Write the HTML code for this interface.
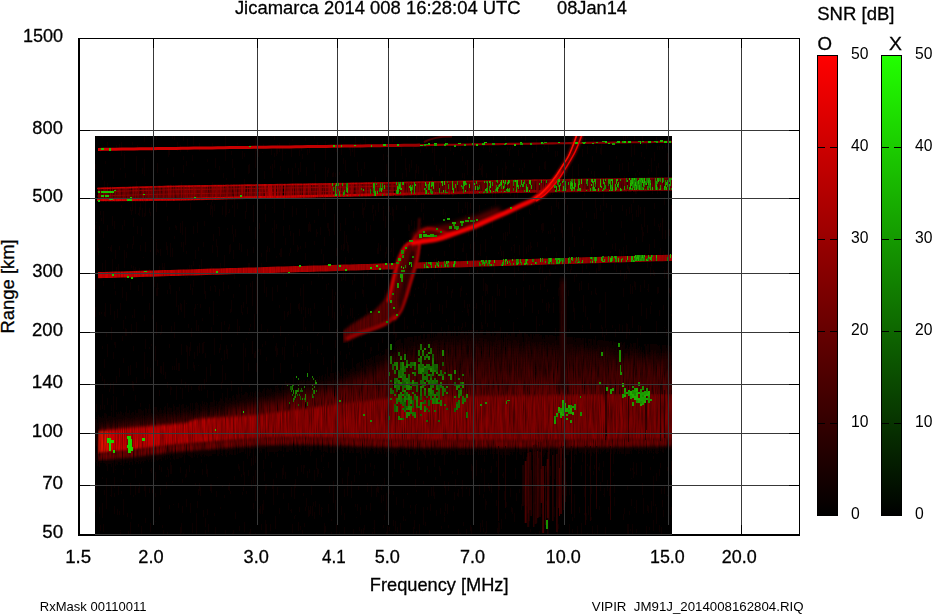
<!DOCTYPE html>
<html><head><meta charset="utf-8"><title>Ionogram</title>
<style>
html,body{margin:0;padding:0;background:#fff;width:932px;height:614px;overflow:hidden;}
svg{display:block;position:absolute;left:0;top:0;}
text{font-family:"Liberation Sans",sans-serif;fill:#000;}
</style></head><body>
<svg width="932" height="614" viewBox="0 0 932 614">
<defs>
<linearGradient id="cbR" x1="0" y1="0" x2="0" y2="1"><stop offset="0" stop-color="#ff0000"/><stop offset="1" stop-color="#000000"/></linearGradient>
<linearGradient id="cbG" x1="0" y1="0" x2="0" y2="1"><stop offset="0" stop-color="#22ff00"/><stop offset="1" stop-color="#000000"/></linearGradient>
<clipPath id="dclip"><rect x="95" y="136" width="577" height="399"/></clipPath>
<linearGradient id="egrad" gradientUnits="userSpaceOnUse" x1="97" y1="0" x2="672" y2="0"><stop offset="0" stop-color="#e80800"/><stop offset="0.12" stop-color="#d00000"/><stop offset="0.3" stop-color="#a00000"/><stop offset="0.55" stop-color="#920000"/><stop offset="1" stop-color="#880000"/></linearGradient>
<filter id="b05" x="-5%" y="-50%" width="110%" height="200%"><feGaussianBlur stdDeviation="0.5"/></filter>
<filter id="b1" x="-10%" y="-10%" width="120%" height="120%"><feGaussianBlur stdDeviation="1"/></filter>
<filter id="b15" x="-5%" y="-20%" width="110%" height="140%"><feGaussianBlur stdDeviation="0.8 1.8"/></filter>
<filter id="b2" x="-20%" y="-50%" width="140%" height="200%"><feGaussianBlur stdDeviation="2"/></filter>
<filter id="b3" x="-20%" y="-20%" width="140%" height="140%"><feGaussianBlur stdDeviation="1 3"/></filter>
<filter id="b6" x="-5%" y="-30%" width="110%" height="160%"><feGaussianBlur stdDeviation="2 7"/></filter>
<filter id="tex" x="95" y="136" width="577" height="399" filterUnits="userSpaceOnUse">
<feTurbulence type="fractalNoise" baseFrequency="0.6 0.03" numOctaves="2" seed="5" result="n"/>
<feColorMatrix in="n" type="matrix" values="0 0 0 0 0  0 0 0 0 0  0 0 0 0 0  0.9 0 0 0 -0.27" result="nb"/>
<feFlood flood-color="#000" result="blk"/>
<feComposite in="blk" in2="nb" operator="in" result="shade"/>
<feComposite in="shade" in2="SourceGraphic" operator="atop"/>
</filter>
<filter id="tex2" x="95" y="136" width="577" height="399" filterUnits="userSpaceOnUse">
<feTurbulence type="fractalNoise" baseFrequency="1.1 0.05" numOctaves="2" seed="11" result="n"/>
<feColorMatrix in="n" type="matrix" values="0 0 0 0 0  0 0 0 0 0  0 0 0 0 0  1.7 0 0 0 -0.47" result="nb"/>
<feFlood flood-color="#000" result="blk"/>
<feComposite in="blk" in2="nb" operator="in" result="shade"/>
<feComposite in="shade" in2="SourceGraphic" operator="atop"/>
</filter>
<linearGradient id="hazeg" gradientUnits="userSpaceOnUse" x1="0" y1="318" x2="0" y2="400"><stop offset="0" stop-color="#300000" stop-opacity="0"/><stop offset="0.35" stop-color="#280000"/><stop offset="0.75" stop-color="#4c0000"/><stop offset="1" stop-color="#6c0000"/></linearGradient>
<linearGradient id="bEdge" gradientUnits="userSpaceOnUse" x1="97" y1="0" x2="672" y2="0"><stop offset="0" stop-color="#e00000"/><stop offset="0.45" stop-color="#cc0000"/><stop offset="0.6" stop-color="#a00000"/><stop offset="1" stop-color="#800000"/></linearGradient>
<linearGradient id="bBody" gradientUnits="userSpaceOnUse" x1="97" y1="0" x2="672" y2="0"><stop offset="0" stop-color="#700000"/><stop offset="0.15" stop-color="#880000"/><stop offset="0.4" stop-color="#980000"/><stop offset="0.6" stop-color="#7c0000"/><stop offset="1" stop-color="#6c0000"/></linearGradient>
<linearGradient id="aGrad" gradientUnits="userSpaceOnUse" x1="97" y1="0" x2="672" y2="0"><stop offset="0" stop-color="#d80000"/><stop offset="0.4" stop-color="#c00000"/><stop offset="0.55" stop-color="#980000"/><stop offset="1" stop-color="#800000"/></linearGradient>
<linearGradient id="cGrad" gradientUnits="userSpaceOnUse" x1="97" y1="0" x2="672" y2="0"><stop offset="0" stop-color="#d00000"/><stop offset="0.35" stop-color="#b80000"/><stop offset="0.55" stop-color="#a00000"/><stop offset="1" stop-color="#a00000"/></linearGradient>
<filter id="tex3" x="95" y="136" width="577" height="399" filterUnits="userSpaceOnUse">
<feTurbulence type="fractalNoise" baseFrequency="0.9 0.035" numOctaves="2" seed="23" result="n"/>
<feColorMatrix in="n" type="matrix" values="0 0 0 0 0  0 0 0 0 0  0 0 0 0 0  1.4 0 0 0 -0.45" result="nb"/>
<feFlood flood-color="#000" result="blk"/>
<feComposite in="blk" in2="nb" operator="in" result="shade"/>
<feComposite in="shade" in2="SourceGraphic" operator="atop"/>
</filter>
</defs>
<rect width="932" height="614" fill="#fff"/>

<!-- DATA -->
<g clip-path="url(#dclip)">
<rect x="95" y="136" width="577" height="399" fill="#020000"/>
<g filter="url(#tex)">
</g>
<g filter="url(#tex2)">
<path d="M385,300 L672,296 L672,360 L385,370 Z" fill="#1e0000" filter="url(#b6)"/>
<path d="M250,395 L380,330 L380,380 L250,420 Z" fill="#140000" filter="url(#b6)"/>
<rect x="95" y="136" width="577" height="399" fill="#070000"/>
<path d="M98.0,427.9 L102.0,427.4 L106.0,427.0 L110.0,426.5 L114.0,426.0 L118.0,425.6 L122.0,425.1 L126.0,424.6 L130.0,424.2 L134.0,423.7 L138.0,423.2 L142.0,422.8 L146.0,422.3 L150.0,421.8 L154.0,421.4 L158.0,420.9 L162.0,420.4 L166.0,420.0 L170.0,419.5 L174.0,419.0 L178.0,418.6 L182.0,418.1 L186.0,417.6 L190.0,417.2 L194.0,416.7 L198.0,416.2 L202.0,415.6 L206.0,414.7 L210.0,413.9 L214.0,413.1 L218.0,412.2 L222.0,411.4 L226.0,410.5 L230.0,409.7 L234.0,408.8 L238.0,408.0 L242.0,407.2 L246.0,406.3 L250.0,405.5 L254.0,404.6 L258.0,403.8 L262.0,402.8 L266.0,401.9 L270.0,401.0 L274.0,400.0 L278.0,399.1 L282.0,398.2 L286.0,397.3 L290.0,396.3 L294.0,395.4 L298.0,394.5 L302.0,393.5 L306.0,392.5 L310.0,391.5 L314.0,390.5 L318.0,389.5 L322.0,388.5 L326.0,387.5 L330.0,386.5 L334.0,385.5 L338.0,384.5 L342.0,383.1 L346.0,381.1 L350.0,379.2 L354.0,377.4 L358.0,375.4 L362.0,373.6 L366.0,371.6 L370.0,369.8 L374.0,367.9 L378.0,365.9 L382.0,363.3 L386.0,359.9 L390.0,356.5 L394.0,353.1 L398.0,349.7 L402.0,347.6 L406.0,346.8 L410.0,346.0 L414.0,345.2 L418.0,344.4 L422.0,343.6 L426.0,342.8 L430.0,342.0 L434.0,341.2 L438.0,340.4 L442.0,339.9 L446.0,339.7 L450.0,339.5 L454.0,339.3 L458.0,339.1 L462.0,338.9 L466.0,338.7 L470.0,338.5 L474.0,338.3 L478.0,338.1 L482.0,338.2 L486.0,338.5 L490.0,338.9 L494.0,339.2 L498.0,339.6 L502.0,339.9 L506.0,340.3 L510.0,340.6 L514.0,341.0 L518.0,341.3 L522.0,341.7 L526.0,342.0 L530.0,342.4 L534.0,342.7 L538.0,343.1 L542.0,343.4 L546.0,343.8 L550.0,344.1 L554.0,344.5 L558.0,344.8 L562.0,345.2 L566.0,345.7 L570.0,346.2 L574.0,346.6 L578.0,347.1 L582.0,347.6 L586.0,348.0 L590.0,348.5 L594.0,349.0 L598.0,349.4 L602.0,349.9 L606.0,350.4 L610.0,350.8 L614.0,351.3 L618.0,351.8 L622.0,352.2 L626.0,352.5 L630.0,352.8 L634.0,353.1 L638.0,353.4 L642.0,353.7 L646.0,354.0 L650.0,354.3 L654.0,354.6 L658.0,354.9 L662.0,355.2 L666.0,355.5 L670.0,355.8 L672.0,356.0 L672.0,439.5 L670.0,439.5 L666.0,439.6 L662.0,439.6 L658.0,439.7 L654.0,439.8 L650.0,439.8 L646.0,439.9 L642.0,439.9 L638.0,440.0 L634.0,440.0 L630.0,440.1 L626.0,440.1 L622.0,440.2 L618.0,440.2 L614.0,440.3 L610.0,440.4 L606.0,440.4 L602.0,440.5 L598.0,440.5 L594.0,440.5 L590.0,440.6 L586.0,440.6 L582.0,440.6 L578.0,440.6 L574.0,440.7 L570.0,440.7 L566.0,440.7 L562.0,440.7 L558.0,440.8 L554.0,440.8 L550.0,440.8 L546.0,440.8 L542.0,440.9 L538.0,440.9 L534.0,440.9 L530.0,440.9 L526.0,441.0 L522.0,441.0 L518.0,441.0 L514.0,441.0 L510.0,441.0 L506.0,441.0 L502.0,441.0 L498.0,441.0 L494.0,441.0 L490.0,441.0 L486.0,441.0 L482.0,441.0 L478.0,441.0 L474.0,441.0 L470.0,441.0 L466.0,441.0 L462.0,441.0 L458.0,441.0 L454.0,441.0 L450.0,441.0 L446.0,441.0 L442.0,441.0 L438.0,441.0 L434.0,441.0 L430.0,441.0 L426.0,441.0 L422.0,441.0 L418.0,441.0 L414.0,440.9 L410.0,440.8 L406.0,440.7 L402.0,440.6 L398.0,440.6 L394.0,440.5 L390.0,440.4 L386.0,440.3 L382.0,440.2 L378.0,440.2 L374.0,440.1 L370.0,440.0 L366.0,439.9 L362.0,439.7 L358.0,439.6 L354.0,439.5 L350.0,439.3 L346.0,439.2 L342.0,439.1 L338.0,438.9 L334.0,438.9 L330.0,438.8 L326.0,438.6 L322.0,438.6 L318.0,438.4 L314.0,438.4 L310.0,438.2 L306.0,438.1 L302.0,438.1 L298.0,438.0 L294.0,438.1 L290.0,438.2 L286.0,438.2 L282.0,438.3 L278.0,438.4 L274.0,438.4 L270.0,438.5 L266.0,438.8 L262.0,439.0 L258.0,439.3 L254.0,439.6 L250.0,439.8 L246.0,440.0 L242.0,440.3 L238.0,440.5 L234.0,440.8 L230.0,441.0 L226.0,441.3 L222.0,441.7 L218.0,442.0 L214.0,442.3 L210.0,442.7 L206.0,443.0 L202.0,443.3 L198.0,443.7 L194.0,444.0 L190.0,444.3 L186.0,444.7 L182.0,445.0 L178.0,445.3 L174.0,445.7 L170.0,446.0 L166.0,446.5 L162.0,447.0 L158.0,447.5 L154.0,448.0 L150.0,448.5 L146.0,449.0 L142.0,449.5 L138.0,450.0 L134.0,450.5 L130.0,451.0 L126.0,451.4 L122.0,451.7 L118.0,452.1 L114.0,452.5 L110.0,452.8 L106.0,453.2 L102.0,453.5 L98.0,453.9 Z" fill="url(#hazeg)" filter="url(#b6)"/>
</g>
<g filter="url(#tex)">
<g filter="url(#tex3)">
<path d="M98.0,430.9 L102.0,430.5 L106.0,430.2 L110.0,429.8 L114.0,429.4 L118.0,429.0 L122.0,428.7 L126.0,428.3 L130.0,427.9 L134.0,427.6 L138.0,427.2 L142.0,426.8 L146.0,426.5 L150.0,426.1 L154.0,425.8 L158.0,425.4 L162.0,425.1 L166.0,424.7 L170.0,424.4 L174.0,424.0 L178.0,423.7 L182.0,423.3 L186.0,423.0 L190.0,421.4 L194.0,419.8 L198.0,418.9 L202.0,418.6 L206.0,418.3 L210.0,418.1 L214.0,417.8 L218.0,417.6 L222.0,417.3 L226.0,417.0 L230.0,416.8 L234.0,416.5 L238.0,416.2 L242.0,416.0 L246.0,415.7 L250.0,415.5 L254.0,415.2 L258.0,414.9 L262.0,414.3 L266.0,413.7 L270.0,413.2 L274.0,412.6 L278.0,412.1 L282.0,411.5 L286.0,411.0 L290.0,410.4 L294.0,409.8 L298.0,409.3 L302.0,408.8 L306.0,408.2 L310.0,407.8 L314.0,407.2 L318.0,406.8 L322.0,406.2 L326.0,405.8 L330.0,405.2 L334.0,404.8 L338.0,404.2 L342.0,403.8 L346.0,403.3 L350.0,402.8 L354.0,402.3 L358.0,401.8 L362.0,401.4 L366.0,400.9 L370.0,400.4 L374.0,399.9 L378.0,399.4 L382.0,399.0 L386.0,398.5 L390.0,398.0 L394.0,397.9 L398.0,397.7 L402.0,397.6 L406.0,397.5 L410.0,397.3 L414.0,397.2 L418.0,397.1 L422.0,397.0 L426.0,396.9 L430.0,396.8 L434.0,396.8 L438.0,396.7 L442.0,396.6 L446.0,396.6 L450.0,396.5 L454.0,396.4 L458.0,396.4 L462.0,396.3 L466.0,396.2 L470.0,396.2 L474.0,396.1 L478.0,396.0 L482.0,396.0 L486.0,395.9 L490.0,395.9 L494.0,395.8 L498.0,395.8 L502.0,395.7 L506.0,395.7 L510.0,395.6 L514.0,395.6 L518.0,395.5 L522.0,395.5 L526.0,395.4 L530.0,395.4 L534.0,395.3 L538.0,395.3 L542.0,395.2 L546.0,395.2 L550.0,395.1 L554.0,395.1 L558.0,395.0 L562.0,395.0 L566.0,394.9 L570.0,394.8 L574.0,394.8 L578.0,394.7 L582.0,394.6 L586.0,394.6 L590.0,394.5 L594.0,394.4 L598.0,394.4 L602.0,394.3 L606.0,394.2 L610.0,394.2 L614.0,394.1 L618.0,394.0 L622.0,394.0 L626.0,394.0 L630.0,394.0 L634.0,394.0 L638.0,394.0 L642.0,394.0 L646.0,394.0 L650.0,394.0 L654.0,394.0 L658.0,394.0 L662.0,394.0 L666.0,394.0 L670.0,394.0 L672.0,394.0 L672.0,439.5 L670.0,439.5 L666.0,439.6 L662.0,439.6 L658.0,439.7 L654.0,439.8 L650.0,439.8 L646.0,439.9 L642.0,439.9 L638.0,440.0 L634.0,440.0 L630.0,440.1 L626.0,440.1 L622.0,440.2 L618.0,440.2 L614.0,440.3 L610.0,440.4 L606.0,440.4 L602.0,440.5 L598.0,440.5 L594.0,440.5 L590.0,440.6 L586.0,440.6 L582.0,440.6 L578.0,440.6 L574.0,440.7 L570.0,440.7 L566.0,440.7 L562.0,440.7 L558.0,440.8 L554.0,440.8 L550.0,440.8 L546.0,440.8 L542.0,440.9 L538.0,440.9 L534.0,440.9 L530.0,440.9 L526.0,441.0 L522.0,441.0 L518.0,441.0 L514.0,441.0 L510.0,441.0 L506.0,441.0 L502.0,441.0 L498.0,441.0 L494.0,441.0 L490.0,441.0 L486.0,441.0 L482.0,441.0 L478.0,441.0 L474.0,441.0 L470.0,441.0 L466.0,441.0 L462.0,441.0 L458.0,441.0 L454.0,441.0 L450.0,441.0 L446.0,441.0 L442.0,441.0 L438.0,441.0 L434.0,441.0 L430.0,441.0 L426.0,441.0 L422.0,441.0 L418.0,441.0 L414.0,440.9 L410.0,440.8 L406.0,440.7 L402.0,440.6 L398.0,440.6 L394.0,440.5 L390.0,440.4 L386.0,440.3 L382.0,440.2 L378.0,440.2 L374.0,440.1 L370.0,440.0 L366.0,439.9 L362.0,439.7 L358.0,439.6 L354.0,439.5 L350.0,439.3 L346.0,439.2 L342.0,439.1 L338.0,438.9 L334.0,438.9 L330.0,438.8 L326.0,438.6 L322.0,438.6 L318.0,438.4 L314.0,438.4 L310.0,438.2 L306.0,438.1 L302.0,438.1 L298.0,438.0 L294.0,438.1 L290.0,438.2 L286.0,438.2 L282.0,438.3 L278.0,438.4 L274.0,438.4 L270.0,438.5 L266.0,438.8 L262.0,439.0 L258.0,439.3 L254.0,439.6 L250.0,439.8 L246.0,440.0 L242.0,440.3 L238.0,440.5 L234.0,440.8 L230.0,441.0 L226.0,441.3 L222.0,441.7 L218.0,442.0 L214.0,442.3 L210.0,442.7 L206.0,443.0 L202.0,443.3 L198.0,443.7 L194.0,444.0 L190.0,444.3 L186.0,444.7 L182.0,445.0 L178.0,445.3 L174.0,445.7 L170.0,446.0 L166.0,446.5 L162.0,447.0 L158.0,447.5 L154.0,448.0 L150.0,448.5 L146.0,449.0 L142.0,449.5 L138.0,450.0 L134.0,450.5 L130.0,451.0 L126.0,451.4 L122.0,451.7 L118.0,452.1 L114.0,452.5 L110.0,452.8 L106.0,453.2 L102.0,453.5 L98.0,453.9 Z" fill="url(#egrad)" filter="url(#b15)"/>
</g>
</g>
<g filter="url(#tex2)">
<path d="M98.0,452.9 L102.0,452.5 L106.0,452.2 L110.0,451.8 L114.0,451.5 L118.0,451.1 L122.0,450.7 L126.0,450.4 L130.0,450.0 L134.0,449.5 L138.0,449.0 L142.0,448.5 L146.0,448.0 L150.0,447.5 L154.0,447.0 L158.0,446.5 L162.0,446.0 L166.0,445.5 L170.0,445.0 L174.0,444.7 L178.0,444.3 L182.0,444.0 L186.0,443.7 L190.0,443.3 L194.0,443.0 L198.0,442.7 L202.0,442.3 L206.0,442.0 L210.0,441.7 L214.0,441.3 L218.0,441.0 L222.0,440.7 L226.0,440.3 L230.0,440.0 L234.0,439.8 L238.0,439.5 L242.0,439.3 L246.0,439.0 L250.0,438.8 L254.0,438.6 L258.0,438.3 L262.0,438.0 L266.0,437.8 L270.0,437.5 L274.0,437.4 L278.0,437.4 L282.0,437.3 L286.0,437.2 L290.0,437.2 L294.0,437.1 L298.0,437.0 L302.0,437.1 L306.0,437.1 L310.0,437.2 L314.0,437.4 L318.0,437.4 L322.0,437.6 L326.0,437.6 L330.0,437.8 L334.0,437.9 L338.0,437.9 L342.0,438.1 L346.0,438.2 L350.0,438.3 L354.0,438.5 L358.0,438.6 L362.0,438.7 L366.0,438.9 L370.0,439.0 L374.0,439.1 L378.0,439.2 L382.0,439.2 L386.0,439.3 L390.0,439.4 L394.0,439.5 L398.0,439.6 L402.0,439.6 L406.0,439.7 L410.0,439.8 L414.0,439.9 L418.0,440.0 L422.0,440.0 L426.0,440.0 L430.0,440.0 L434.0,440.0 L438.0,440.0 L442.0,440.0 L446.0,440.0 L450.0,440.0 L454.0,440.0 L458.0,440.0 L462.0,440.0 L466.0,440.0 L470.0,440.0 L474.0,440.0 L478.0,440.0 L482.0,440.0 L486.0,440.0 L490.0,440.0 L494.0,440.0 L498.0,440.0 L502.0,440.0 L506.0,440.0 L510.0,440.0 L514.0,440.0 L518.0,440.0 L522.0,440.0 L526.0,440.0 L530.0,439.9 L534.0,439.9 L538.0,439.9 L542.0,439.9 L546.0,439.8 L550.0,439.8 L554.0,439.8 L558.0,439.8 L562.0,439.7 L566.0,439.7 L570.0,439.7 L574.0,439.7 L578.0,439.6 L582.0,439.6 L586.0,439.6 L590.0,439.6 L594.0,439.5 L598.0,439.5 L602.0,439.5 L606.0,439.4 L610.0,439.4 L614.0,439.3 L618.0,439.2 L622.0,439.2 L626.0,439.1 L630.0,439.1 L634.0,439.0 L638.0,439.0 L642.0,438.9 L646.0,438.9 L650.0,438.8 L654.0,438.8 L658.0,438.7 L662.0,438.6 L666.0,438.6 L670.0,438.5 L672.0,438.5 L672.0,446.0 L670.0,446.0 L666.0,446.1 L662.0,446.1 L658.0,446.2 L654.0,446.2 L650.0,446.3 L646.0,446.4 L642.0,446.4 L638.0,446.5 L634.0,446.5 L630.0,446.6 L626.0,446.6 L622.0,446.7 L618.0,446.8 L614.0,446.8 L610.0,446.9 L606.0,446.9 L602.0,447.0 L598.0,447.0 L594.0,447.0 L590.0,447.1 L586.0,447.1 L582.0,447.1 L578.0,447.1 L574.0,447.2 L570.0,447.2 L566.0,447.2 L562.0,447.2 L558.0,447.3 L554.0,447.3 L550.0,447.3 L546.0,447.3 L542.0,447.4 L538.0,447.4 L534.0,447.4 L530.0,447.4 L526.0,447.5 L522.0,447.5 L518.0,447.5 L514.0,447.5 L510.0,447.5 L506.0,447.5 L502.0,447.5 L498.0,447.5 L494.0,447.5 L490.0,447.5 L486.0,447.5 L482.0,447.5 L478.0,447.5 L474.0,447.5 L470.0,447.5 L466.0,447.5 L462.0,447.5 L458.0,447.5 L454.0,447.5 L450.0,447.5 L446.0,447.5 L442.0,447.5 L438.0,447.5 L434.0,447.5 L430.0,447.5 L426.0,447.5 L422.0,447.5 L418.0,447.5 L414.0,447.4 L410.0,447.3 L406.0,447.2 L402.0,447.1 L398.0,447.1 L394.0,447.0 L390.0,446.9 L386.0,446.8 L382.0,446.7 L378.0,446.7 L374.0,446.6 L370.0,446.5 L366.0,446.4 L362.0,446.2 L358.0,446.1 L354.0,446.0 L350.0,445.8 L346.0,445.7 L342.0,445.6 L338.0,445.4 L334.0,445.4 L330.0,445.2 L326.0,445.1 L322.0,445.1 L318.0,444.9 L314.0,444.9 L310.0,444.8 L306.0,444.6 L302.0,444.6 L298.0,444.5 L294.0,444.6 L290.0,444.7 L286.0,444.7 L282.0,444.8 L278.0,444.9 L274.0,444.9 L270.0,445.0 L266.0,445.3 L262.0,445.5 L258.0,445.8 L254.0,446.1 L250.0,446.3 L246.0,446.5 L242.0,446.8 L238.0,447.0 L234.0,447.3 L230.0,447.5 L226.0,447.8 L222.0,448.2 L218.0,448.5 L214.0,448.8 L210.0,449.2 L206.0,449.5 L202.0,449.8 L198.0,450.2 L194.0,450.5 L190.0,450.8 L186.0,451.2 L182.0,451.5 L178.0,451.8 L174.0,452.2 L170.0,452.5 L166.0,453.0 L162.0,453.5 L158.0,454.0 L154.0,454.5 L150.0,455.0 L146.0,455.5 L142.0,456.0 L138.0,456.5 L134.0,457.0 L130.0,457.5 L126.0,457.9 L122.0,458.2 L118.0,458.6 L114.0,459.0 L110.0,459.3 L106.0,459.7 L102.0,460.0 L98.0,460.4 Z" fill="#700000" filter="url(#b15)"/>
</g>
<g filter="url(#tex)">
<rect x="536.2" y="445" width="1" height="78" fill="rgb(49,0,0)" opacity="0.85"/>
<rect x="538.1" y="442" width="1" height="76" fill="rgb(47,0,0)" opacity="0.85"/>
<rect x="541.1" y="442" width="1" height="61" fill="rgb(72,0,0)" opacity="0.85"/>
<rect x="558.4" y="444" width="1" height="64" fill="rgb(85,0,0)" opacity="0.85"/>
<rect x="547.4" y="452" width="1" height="82" fill="rgb(47,0,0)" opacity="0.85"/>
<rect x="534.7" y="444" width="1" height="60" fill="rgb(64,0,0)" opacity="0.85"/>
<rect x="526.5" y="457" width="1" height="49" fill="rgb(51,0,0)" opacity="0.85"/>
<rect x="546.8" y="459" width="2" height="59" fill="rgb(79,0,0)" opacity="0.85"/>
<rect x="556.2" y="454" width="1.5" height="78" fill="rgb(68,0,0)" opacity="0.85"/>
<rect x="532.9" y="445" width="1.5" height="82" fill="rgb(50,0,0)" opacity="0.85"/>
<rect x="545.1" y="466" width="1" height="59" fill="rgb(63,0,0)" opacity="0.85"/>
<rect x="527.2" y="453" width="2" height="74" fill="rgb(54,0,0)" opacity="0.85"/>
<rect x="540.6" y="469" width="1.5" height="34" fill="rgb(80,0,0)" opacity="0.85"/>
<rect x="537.0" y="451" width="1" height="67" fill="rgb(74,0,0)" opacity="0.85"/>
<rect x="559.0" y="468" width="1" height="48" fill="rgb(87,0,0)" opacity="0.85"/>
<rect x="524.7" y="461" width="2" height="62" fill="rgb(88,0,0)" opacity="0.85"/>
<rect x="534.5" y="452" width="2" height="72" fill="rgb(46,0,0)" opacity="0.85"/>
<rect x="537.6" y="458" width="1.5" height="59" fill="rgb(58,0,0)" opacity="0.85"/>
<rect x="527.7" y="447" width="1" height="66" fill="rgb(76,0,0)" opacity="0.85"/>
<rect x="529.3" y="452" width="2" height="58" fill="rgb(53,0,0)" opacity="0.85"/>
<rect x="560.0" y="448" width="2" height="66" fill="rgb(67,0,0)" opacity="0.85"/>
<rect x="564.1" y="445" width="1" height="62" fill="rgb(59,0,0)" opacity="0.85"/>
<rect x="522.5" y="465" width="1" height="41" fill="rgb(63,0,0)" opacity="0.85"/>
<rect x="528.4" y="456" width="1" height="65" fill="rgb(65,0,0)" opacity="0.85"/>
<rect x="552.4" y="455" width="1" height="66" fill="rgb(88,0,0)" opacity="0.85"/>
<rect x="542.1" y="466" width="2" height="67" fill="rgb(88,0,0)" opacity="0.85"/>
<rect x="539.5" y="452" width="1" height="65" fill="rgb(70,0,0)" opacity="0.85"/>
<rect x="530.4" y="470" width="1.5" height="46" fill="rgb(52,0,0)" opacity="0.85"/>
<rect x="548.4" y="443" width="1" height="77" fill="rgb(79,0,0)" opacity="0.85"/>
<rect x="563.8" y="458" width="2" height="44" fill="rgb(58,0,0)" opacity="0.85"/>
<rect x="563" y="446" width="1" height="64" fill="rgb(45,0,0)"/>
<rect x="571" y="446" width="1" height="68" fill="rgb(36,0,0)"/>
<rect x="585" y="446" width="1" height="79" fill="rgb(36,0,0)"/>
<rect x="590" y="446" width="1" height="75" fill="rgb(28,0,0)"/>
<rect x="596" y="446" width="1" height="63" fill="rgb(40,0,0)"/>
<rect x="610" y="446" width="1" height="74" fill="rgb(40,0,0)"/>
<rect x="498" y="446" width="1" height="75" fill="rgb(34,0,0)"/>
<rect x="505" y="446" width="1" height="62" fill="rgb(29,0,0)"/>
<rect x="560" y="280" width="6" height="110" fill="#2a0000" filter="url(#b3)"/>
<rect x="605" y="384" width="1" height="56" fill="#000" opacity="0.55"/>
<rect x="606" y="390" width="1" height="46" fill="#000" opacity="0.55"/>
<rect x="628" y="386" width="1" height="56" fill="#000" opacity="0.55"/>
<rect x="645" y="388" width="1" height="52" fill="#000" opacity="0.55"/>
<rect x="646" y="395" width="1" height="35" fill="#000" opacity="0.55"/>
<rect x="660" y="384" width="1" height="57" fill="#000" opacity="0.55"/>
<rect x="664" y="390" width="1" height="48" fill="#000" opacity="0.55"/>
</g>
<g filter="url(#tex2)">
<path d="M98.0,187.5 L102.0,187.4 L106.0,187.3 L110.0,187.1 L114.0,187.0 L118.0,186.9 L122.0,186.8 L126.0,186.7 L130.0,186.6 L134.0,186.5 L138.0,186.4 L142.0,186.3 L146.0,186.2 L150.0,186.0 L154.0,185.9 L158.0,185.8 L162.0,185.7 L166.0,185.6 L170.0,185.5 L174.0,185.4 L178.0,185.4 L182.0,185.3 L186.0,185.2 L190.0,185.2 L194.0,185.1 L198.0,185.1 L202.0,185.0 L206.0,184.9 L210.0,184.9 L214.0,184.8 L218.0,184.8 L222.0,184.7 L226.0,184.6 L230.0,184.6 L234.0,184.5 L238.0,184.4 L242.0,184.4 L246.0,184.3 L250.0,184.2 L254.0,184.2 L258.0,184.1 L262.0,184.1 L266.0,184.0 L270.0,183.9 L274.0,183.9 L278.0,183.8 L282.0,183.8 L286.0,183.7 L290.0,183.6 L294.0,183.6 L298.0,183.5 L302.0,183.4 L306.0,183.4 L310.0,183.3 L314.0,183.2 L318.0,183.2 L322.0,183.1 L326.0,183.1 L330.0,183.0 L334.0,182.9 L338.0,182.8 L342.0,182.8 L346.0,182.7 L350.0,182.6 L354.0,182.6 L358.0,182.5 L362.0,182.4 L366.0,182.3 L370.0,182.2 L374.0,182.2 L378.0,182.1 L382.0,182.0 L386.0,181.9 L390.0,181.9 L394.0,181.8 L398.0,181.7 L402.0,181.7 L406.0,181.6 L410.0,181.5 L414.0,181.4 L418.0,181.3 L422.0,181.3 L426.0,181.2 L430.0,181.1 L434.0,181.1 L438.0,181.0 L442.0,180.9 L446.0,180.8 L450.0,180.8 L454.0,180.7 L458.0,180.6 L462.0,180.5 L466.0,180.4 L470.0,180.4 L474.0,180.3 L478.0,180.2 L482.0,180.2 L486.0,180.1 L490.0,180.0 L494.0,179.9 L498.0,179.9 L502.0,179.8 L506.0,179.8 L510.0,179.7 L514.0,179.6 L518.0,179.6 L522.0,179.5 L526.0,179.5 L530.0,179.4 L534.0,179.3 L538.0,179.3 L542.0,179.2 L546.0,179.2 L550.0,179.1 L554.0,179.1 L558.0,179.0 L562.0,178.9 L566.0,178.9 L570.0,178.8 L574.0,178.8 L578.0,178.7 L582.0,178.6 L586.0,178.6 L590.0,178.5 L594.0,178.5 L598.0,178.4 L602.0,178.3 L606.0,178.3 L610.0,178.2 L614.0,178.2 L618.0,178.1 L622.0,178.0 L626.0,178.0 L630.0,177.9 L634.0,177.9 L638.0,177.8 L642.0,177.7 L646.0,177.7 L650.0,177.6 L654.0,177.6 L658.0,177.5 L662.0,177.4 L666.0,177.4 L670.0,177.3 L672.0,177.3 L672.0,190.8 L670.0,190.8 L666.0,190.9 L662.0,190.9 L658.0,191.0 L654.0,191.1 L650.0,191.1 L646.0,191.2 L642.0,191.2 L638.0,191.3 L634.0,191.4 L630.0,191.4 L626.0,191.5 L622.0,191.5 L618.0,191.6 L614.0,191.7 L610.0,191.7 L606.0,191.8 L602.0,191.8 L598.0,191.9 L594.0,192.0 L590.0,192.0 L586.0,192.1 L582.0,192.1 L578.0,192.2 L574.0,192.3 L570.0,192.3 L566.0,192.4 L562.0,192.4 L558.0,192.5 L554.0,192.6 L550.0,192.6 L546.0,192.7 L542.0,192.7 L538.0,192.8 L534.0,192.8 L530.0,192.9 L526.0,193.0 L522.0,193.0 L518.0,193.1 L514.0,193.1 L510.0,193.2 L506.0,193.3 L502.0,193.3 L498.0,193.4 L494.0,193.4 L490.0,193.5 L486.0,193.6 L482.0,193.7 L478.0,193.8 L474.0,193.9 L470.0,194.0 L466.0,194.1 L462.0,194.2 L458.0,194.3 L454.0,194.4 L450.0,194.4 L446.0,194.5 L442.0,194.6 L438.0,194.7 L434.0,194.8 L430.0,194.9 L426.0,195.0 L422.0,195.1 L418.0,195.2 L414.0,195.3 L410.0,195.4 L406.0,195.5 L402.0,195.6 L398.0,195.7 L394.0,195.8 L390.0,195.9 L386.0,196.0 L382.0,196.1 L378.0,196.2 L374.0,196.3 L370.0,196.4 L366.0,196.4 L362.0,196.5 L358.0,196.6 L354.0,196.7 L350.0,196.8 L346.0,196.9 L342.0,197.0 L338.0,197.1 L334.0,197.2 L330.0,197.3 L326.0,197.4 L322.0,197.5 L318.0,197.6 L314.0,197.7 L310.0,197.7 L306.0,197.8 L302.0,197.9 L298.0,198.0 L294.0,198.1 L290.0,198.2 L286.0,198.3 L282.0,198.4 L278.0,198.4 L274.0,198.5 L270.0,198.6 L266.0,198.7 L262.0,198.8 L258.0,198.9 L254.0,199.0 L250.0,199.1 L246.0,199.1 L242.0,199.2 L238.0,199.3 L234.0,199.4 L230.0,199.5 L226.0,199.6 L222.0,199.7 L218.0,199.8 L214.0,199.9 L210.0,200.0 L206.0,200.1 L202.0,200.2 L198.0,200.3 L194.0,200.4 L190.0,200.5 L186.0,200.6 L182.0,200.7 L178.0,200.8 L174.0,200.9 L170.0,201.0 L166.0,201.0 L162.0,201.1 L158.0,201.1 L154.0,201.1 L150.0,201.1 L146.0,201.2 L142.0,201.2 L138.0,201.2 L134.0,201.2 L130.0,201.3 L126.0,201.3 L122.0,201.3 L118.0,201.4 L114.0,201.4 L110.0,201.4 L106.0,201.4 L102.0,201.5 L98.0,201.5 Z" fill="url(#bBody)" filter="url(#b05)"/>
<path d="M264,184 L276,184 L276,198 L264,198 Z" fill="#d00000" opacity="0.6" filter="url(#b05)"/>
</g>
<g filter="url(#tex)"><g filter="url(#b05)">
<path d="M97.0,199.9 L103.0,199.9 L109.0,199.8 L115.0,199.8 L121.0,199.7 L127.0,199.7 L133.0,199.7 L139.0,199.6 L145.0,199.6 L151.0,199.5 L157.0,199.5 L163.0,199.4 L169.0,199.4 L175.0,199.3 L181.0,199.1 L187.0,199.0 L193.0,198.8 L199.0,198.7 L205.0,198.5 L211.0,198.4 L217.0,198.2 L223.0,198.1 L229.0,197.9 L235.0,197.8 L241.0,197.7 L247.0,197.5 L253.0,197.4 L259.0,197.3 L265.0,197.1 L271.0,197.0 L277.0,196.9 L283.0,196.7 L289.0,196.6 L295.0,196.5 L301.0,196.3 L307.0,196.2 L313.0,196.1 L319.0,195.9 L325.0,195.8 L331.0,195.7 L337.0,195.5 L343.0,195.4 L349.0,195.2 L355.0,195.1 L361.0,195.0 L367.0,194.8 L373.0,194.7 L379.0,194.5 L385.0,194.4 L391.0,194.3 L397.0,194.1 L403.0,194.0 L409.0,193.8 L415.0,193.7 L421.0,193.5 L427.0,193.4 L433.0,193.3 L439.0,193.1 L445.0,193.0 L451.0,192.8 L457.0,192.7 L463.0,192.5 L469.0,192.4 L475.0,192.3 L481.0,192.1 L487.0,192.0 L493.0,191.9 L499.0,191.8 L505.0,191.7 L511.0,191.6 L517.0,191.5 L523.0,191.4 L529.0,191.3 L535.0,191.2 L541.0,191.1 L547.0,191.1 L553.0,191.0 L559.0,190.9 L565.0,190.8 L571.0,190.7 L577.0,190.6 L583.0,190.5 L589.0,190.4 L595.0,190.3 L601.0,190.3 L607.0,190.2 L613.0,190.1 L619.0,190.0 L625.0,189.9 L631.0,189.8 L637.0,189.7 L643.0,189.6 L649.0,189.5 L655.0,189.5 L661.0,189.4 L667.0,189.3 L672.0,189.2" stroke="url(#bEdge)" stroke-width="2.4" fill="none" opacity="1.0"/>
<path d="M97.0,188.5 L103.0,188.3 L109.0,188.2 L115.0,188.0 L121.0,187.8 L127.0,187.7 L133.0,187.5 L139.0,187.3 L145.0,187.2 L151.0,187.0 L157.0,186.9 L163.0,186.7 L169.0,186.5 L175.0,186.4 L181.0,186.3 L187.0,186.2 L193.0,186.1 L199.0,186.0 L205.0,186.0 L211.0,185.9 L217.0,185.8 L223.0,185.7 L229.0,185.6 L235.0,185.5 L241.0,185.4 L247.0,185.3 L253.0,185.2 L259.0,185.1 L265.0,185.0 L271.0,184.9 L277.0,184.8 L283.0,184.7 L289.0,184.6 L295.0,184.5 L301.0,184.5 L307.0,184.4 L313.0,184.3 L319.0,184.2 L325.0,184.1 L331.0,184.0 L337.0,183.9 L343.0,183.8 L349.0,183.6 L355.0,183.5 L361.0,183.4 L367.0,183.3 L373.0,183.2 L379.0,183.1 L385.0,183.0 L391.0,182.9 L397.0,182.7 L403.0,182.6 L409.0,182.5 L415.0,182.4 L421.0,182.3 L427.0,182.2 L433.0,182.1 L439.0,182.0 L445.0,181.8 L451.0,181.7 L457.0,181.6 L463.0,181.5 L469.0,181.4 L475.0,181.3 L481.0,181.2 L487.0,181.1 L493.0,181.0 L499.0,180.9 L505.0,180.8 L511.0,180.7 L517.0,180.6 L523.0,180.5 L529.0,180.4 L535.0,180.3 L541.0,180.2 L547.0,180.2 L553.0,180.1 L559.0,180.0 L565.0,179.9 L571.0,179.8 L577.0,179.7 L583.0,179.6 L589.0,179.5 L595.0,179.4 L601.0,179.4 L607.0,179.3 L613.0,179.2 L619.0,179.1 L625.0,179.0 L631.0,178.9 L637.0,178.8 L643.0,178.7 L649.0,178.6 L655.0,178.6 L661.0,178.5 L667.0,178.4 L672.0,178.3" stroke="url(#bEdge)" stroke-width="1.4" fill="none" opacity="0.9"/>
<path d="M97.0,191.8 L103.0,191.6 L109.0,191.5 L115.0,191.3 L121.0,191.1 L127.0,191.0 L133.0,190.8 L139.0,190.6 L145.0,190.5 L151.0,190.3 L157.0,190.2 L163.0,190.0 L169.0,189.8 L175.0,189.7 L181.0,189.6 L187.0,189.5 L193.0,189.4 L199.0,189.3 L205.0,189.3 L211.0,189.2 L217.0,189.1 L223.0,189.0 L229.0,188.9 L235.0,188.8 L241.0,188.7 L247.0,188.6 L253.0,188.5 L259.0,188.4 L265.0,188.3 L271.0,188.2 L277.0,188.1 L283.0,188.0 L289.0,187.9 L295.0,187.8 L301.0,187.8 L307.0,187.7 L313.0,187.6 L319.0,187.5 L325.0,187.4 L331.0,187.3 L337.0,187.2 L343.0,187.1 L349.0,186.9 L355.0,186.8 L361.0,186.7 L367.0,186.6 L373.0,186.5 L379.0,186.4 L385.0,186.3 L391.0,186.2 L397.0,186.0 L400.0,186.0" stroke="#b00000" stroke-width="1.0" fill="none" opacity="0.7"/>
<path d="M97.0,196.0 L103.0,195.8 L109.0,195.7 L115.0,195.5 L121.0,195.3 L127.0,195.2 L133.0,195.0 L139.0,194.8 L145.0,194.7 L151.0,194.5 L157.0,194.4 L163.0,194.2 L169.0,194.0 L175.0,193.9 L181.0,193.8 L187.0,193.7 L193.0,193.6 L199.0,193.5 L205.0,193.5 L211.0,193.4 L217.0,193.3 L223.0,193.2 L229.0,193.1 L235.0,193.0 L241.0,192.9 L247.0,192.8 L253.0,192.7 L259.0,192.6 L265.0,192.5 L271.0,192.4 L277.0,192.3 L283.0,192.2 L289.0,192.1 L295.0,192.0 L301.0,192.0 L307.0,191.9 L313.0,191.8 L319.0,191.7 L325.0,191.6 L331.0,191.5 L337.0,191.4 L343.0,191.3 L349.0,191.1 L355.0,191.0 L361.0,190.9 L367.0,190.8 L373.0,190.7 L379.0,190.6 L385.0,190.5 L391.0,190.4 L397.0,190.2 L400.0,190.2" stroke="#b00000" stroke-width="1.0" fill="none" opacity="0.6"/>
<path d="M98.0,275.2 L104.0,275.0 L110.0,274.8 L116.0,274.7 L122.0,274.5 L128.0,274.3 L134.0,274.1 L140.0,273.9 L146.0,273.7 L152.0,273.6 L158.0,273.4 L164.0,273.2 L170.0,273.0 L176.0,272.8 L182.0,272.6 L188.0,272.5 L194.0,272.3 L200.0,272.1 L206.0,271.9 L212.0,271.7 L218.0,271.6 L224.0,271.4 L230.0,271.2 L236.0,271.0 L242.0,270.8 L248.0,270.6 L254.0,270.5 L260.0,270.3 L266.0,270.1 L272.0,269.9 L278.0,269.7 L284.0,269.5 L290.0,269.4 L296.0,269.2 L302.0,269.0 L308.0,268.8 L314.0,268.6 L320.0,268.5 L326.0,268.3 L332.0,268.1 L338.0,267.9 L344.0,267.7 L350.0,267.5 L356.0,267.4 L362.0,267.2 L368.0,267.0 L374.0,266.8 L380.0,266.6 L386.0,266.4 L392.0,266.3 L398.0,266.1 L404.0,265.9 L410.0,265.7 L416.0,265.5 L422.0,265.4 L428.0,265.2 L434.0,265.0 L440.0,264.8 L446.0,264.6 L452.0,264.4 L458.0,264.3 L464.0,264.1 L470.0,263.9 L476.0,263.7 L482.0,263.5 L488.0,263.3 L494.0,263.2 L500.0,263.0 L506.0,262.8 L512.0,262.6 L518.0,262.4 L524.0,262.2 L530.0,262.1 L536.0,261.9 L542.0,261.7 L548.0,261.5 L554.0,261.3 L560.0,261.2 L566.0,261.0 L572.0,260.8 L578.0,260.6 L584.0,260.4 L590.0,260.2 L596.0,260.1 L602.0,259.9 L608.0,259.7 L614.0,259.5 L620.0,259.3 L626.0,259.1 L632.0,259.0 L638.0,258.8 L644.0,258.6 L650.0,258.4 L656.0,258.2 L662.0,258.1 L668.0,257.9 L672.0,257.8" stroke="url(#cGrad)" stroke-width="6.2" fill="none" opacity="1.0"/>
</g></g>
<g filter="url(#b05)">
<path d="M98.0,149.4 L104.0,149.3 L110.0,149.2 L116.0,149.2 L122.0,149.1 L128.0,149.0 L134.0,148.9 L140.0,148.8 L146.0,148.8 L152.0,148.7 L158.0,148.6 L164.0,148.5 L170.0,148.4 L176.0,148.4 L182.0,148.3 L188.0,148.2 L194.0,148.1 L200.0,148.0 L206.0,148.0 L212.0,147.9 L218.0,147.8 L224.0,147.7 L230.0,147.6 L236.0,147.6 L242.0,147.5 L248.0,147.4 L254.0,147.3 L260.0,147.3 L266.0,147.2 L272.0,147.1 L278.0,147.0 L284.0,146.9 L290.0,146.9 L296.0,146.8 L302.0,146.7 L308.0,146.6 L314.0,146.5 L320.0,146.5 L326.0,146.4 L332.0,146.3 L338.0,146.2 L344.0,146.1 L350.0,146.1 L356.0,146.0 L362.0,145.9 L368.0,145.8 L374.0,145.7 L380.0,145.7 L386.0,145.6 L392.0,145.5 L398.0,145.4 L404.0,145.3 L410.0,145.3 L416.0,145.2 L420.0,145.1" stroke="url(#aGrad)" stroke-width="3.0" fill="none" opacity="1.0"/>
<path d="M414.0,145.2 L420.0,145.1 L426.0,145.1 L432.0,145.0 L438.0,144.9 L444.0,144.8 L450.0,144.7 L456.0,144.7 L462.0,144.6 L468.0,144.5 L474.0,144.4 L480.0,144.3 L486.0,144.3 L492.0,144.2 L498.0,144.1 L504.0,144.0 L510.0,143.9 L516.0,143.9 L522.0,143.8 L528.0,143.7 L534.0,143.6 L540.0,143.5 L546.0,143.5 L552.0,143.4 L558.0,143.3 L564.0,143.2 L570.0,143.1 L576.0,143.1 L582.0,143.0 L588.0,142.9 L594.0,142.8 L600.0,142.7 L606.0,142.7 L612.0,142.6 L618.0,142.5 L624.0,142.4 L630.0,142.3 L636.0,142.3 L642.0,142.2 L648.0,142.1 L654.0,142.0 L660.0,141.9 L666.0,141.9 L672.0,141.8" stroke="url(#aGrad)" stroke-width="2.1" fill="none" opacity="1.0"/>
<path d="M424,142 Q436,136 452,136.5" stroke="#4a0000" stroke-width="2" fill="none"/>
</g>
<g filter="url(#b1)">
<path d="M533.0,199.5 C534.3,198.5 538.5,195.7 541.0,193.5 C543.5,191.3 545.5,189.4 548.0,186.5 C550.5,183.6 553.5,179.6 556.0,176.0 C558.5,172.4 561.0,168.2 563.0,165.0 C565.0,161.8 566.5,159.8 568.0,157.0 C569.5,154.2 570.8,150.8 572.0,148.0 C573.2,145.2 574.2,142.3 575.0,140.0 C575.8,137.7 576.7,135.0 577.0,134.0" stroke="#900000" stroke-width="3" fill="none"/>
<path d="M536.0,201.0 C537.5,199.9 542.5,196.6 545.0,194.5 C547.5,192.4 548.8,190.9 551.0,188.5 C553.2,186.1 555.8,182.9 558.0,180.0 C560.2,177.1 562.0,174.2 564.0,171.0 C566.0,167.8 568.2,164.2 570.0,161.0 C571.8,157.8 573.7,154.7 575.0,152.0 C576.3,149.3 577.2,147.0 578.0,145.0 C578.8,143.0 579.3,141.8 580.0,140.0 C580.7,138.2 581.7,135.0 582.0,134.0" stroke="#800000" stroke-width="3" fill="none"/>
</g>
<g filter="url(#tex)">
<path d="M343,331 L352,324 L362,318 L375,310 L384,300 L389,288 L393,272 L397,258 L402,248 L408,242 L421,244 L418,262 L413,278 L407,295 L400,310 L392,320 L380,327 L365,333 L350,340 L343,343 Z" fill="#5c0000" filter="url(#b15)"/>
<path d="M398,300 L402,285 L406,270 L409,258 L412,250 L415,252 L413,265 L409,280 L404,298 L399,310 Z" fill="#000" opacity="0.45" filter="url(#b1)"/>
</g>
<g filter="url(#b1)">
<path d="M346.0,339.0 C348.3,338.0 355.2,334.8 360.0,333.0 C364.8,331.2 370.3,329.8 375.0,328.0 C379.7,326.2 384.5,324.2 388.0,322.0 C391.5,319.8 394.7,316.2 396.0,315.0" stroke="#900000" stroke-width="4" fill="none"/>
<path d="M388.0,302.0 C388.5,300.0 389.8,294.8 391.0,290.0 C392.2,285.2 393.5,278.5 395.0,273.0 C396.5,267.5 398.3,261.3 400.0,257.0 C401.7,252.7 403.2,249.5 405.0,247.0 C406.8,244.5 408.5,243.2 411.0,242.0 C413.5,240.8 418.5,240.3 420.0,240.0" stroke="#d80000" stroke-width="3" fill="none"/>
<path d="M394.0,320.0 C395.2,318.5 399.0,314.7 401.0,311.0 C403.0,307.3 404.7,301.8 406.0,298.0 C407.3,294.2 408.0,291.3 409.0,288.0 C410.0,284.7 411.0,281.3 412.0,278.0 C413.0,274.7 414.1,271.3 415.0,268.0 C415.9,264.7 416.8,261.3 417.5,258.0 C418.2,254.7 418.6,251.3 419.0,248.0 C419.4,244.7 419.8,239.7 420.0,238.0" stroke="#c00000" stroke-width="2.2" fill="none"/>
<path d="M413.0,237.0 C414.5,236.2 418.3,233.2 422.0,232.0 C425.7,230.8 430.3,230.8 435.0,230.0 C439.7,229.2 445.0,228.3 450.0,227.0 C455.0,225.7 460.0,223.5 465.0,222.0 C470.0,220.5 474.2,220.0 480.0,218.0 C485.8,216.0 496.7,211.3 500.0,210.0" stroke="#600000" stroke-width="6" fill="none" filter="url(#b2)"/>
<path d="M414,241 Q424,226 436,229 Q446,232 452,234 L430,240 Z" fill="#500000"/>
<path d="M411.0,243.0 C412.0,241.7 414.8,237.2 417.0,235.0 C419.2,232.8 421.5,230.6 424.0,229.5 C426.5,228.4 429.3,228.2 432.0,228.5 C434.7,228.8 437.5,230.2 440.0,231.0 C442.5,231.8 444.3,232.9 447.0,233.0 C449.7,233.1 454.5,231.8 456.0,231.5" stroke="#a80000" stroke-width="2.6" fill="none"/>
<path d="M417.0,240.0 C417.2,238.3 418.1,233.7 418.5,230.0 C418.9,226.3 419.3,220.0 419.5,218.0" stroke="#700000" stroke-width="1.6" fill="none"/>
<path d="M411.0,243.5 C412.5,243.2 416.8,242.5 420.0,242.0 C423.2,241.5 426.7,241.1 430.0,240.5 C433.3,239.9 435.0,240.0 440.0,238.5 C445.0,237.0 454.5,233.4 460.0,231.5 C465.5,229.6 469.7,228.2 473.0,227.0 C476.3,225.8 474.7,226.3 480.0,224.0 C485.3,221.7 498.3,216.0 505.0,213.0 C511.7,210.0 515.5,208.1 520.0,206.0 C524.5,203.9 528.7,202.3 532.0,200.5 C535.3,198.7 538.7,195.9 540.0,195.0" stroke="#f00000" stroke-width="4.8" fill="none"/>
<path d="M532.0,200.5 C533.3,199.6 537.7,196.8 540.0,195.0 C542.3,193.2 544.0,191.5 546.0,189.5 C548.0,187.5 550.2,185.2 552.0,183.0 C553.8,180.8 556.2,177.6 557.0,176.5" stroke="#e80000" stroke-width="3.8" fill="none"/>
<path d="M550.0,185.0 C551.2,183.6 555.2,179.0 557.0,176.5 C558.8,174.0 560.3,171.1 561.0,170.0" stroke="#c00000" stroke-width="3" fill="none"/>
</g>
<g filter="url(#b05)">
<path d="M533.0,199.5 C534.3,198.5 538.5,195.7 541.0,193.5 C543.5,191.3 545.5,189.4 548.0,186.5 C550.5,183.6 553.5,179.6 556.0,176.0 C558.5,172.4 561.0,168.2 563.0,165.0 C565.0,161.8 566.5,159.8 568.0,157.0 C569.5,154.2 570.8,150.8 572.0,148.0 C573.2,145.2 574.2,142.3 575.0,140.0 C575.8,137.7 576.7,135.0 577.0,134.0" stroke="#ff1000" stroke-width="1.5" fill="none"/>
<path d="M536.0,201.0 C537.5,199.9 542.5,196.6 545.0,194.5 C547.5,192.4 548.8,190.9 551.0,188.5 C553.2,186.1 555.8,182.9 558.0,180.0 C560.2,177.1 562.0,174.2 564.0,171.0 C566.0,167.8 568.2,164.2 570.0,161.0 C571.8,157.8 573.7,154.7 575.0,152.0 C576.3,149.3 577.2,147.0 578.0,145.0 C578.8,143.0 579.3,141.8 580.0,140.0 C580.7,138.2 581.7,135.0 582.0,134.0" stroke="#f00000" stroke-width="1.4" fill="none"/>
</g>
<g shape-rendering="crispEdges">
<rect x="101" y="148" width="3" height="2" fill="#1cc400"/>
<rect x="109" y="148" width="2" height="3" fill="#1cc400"/>
<rect x="249" y="146" width="2" height="1" fill="#1cc400"/>
<rect x="333" y="145" width="2" height="2" fill="#1cc400"/>
<rect x="341" y="145" width="1" height="2" fill="#1cc400"/>
<rect x="354" y="145" width="2" height="1" fill="#1cc400"/>
<rect x="371" y="145" width="1" height="2" fill="#1cc400"/>
<rect x="383" y="144" width="3" height="2" fill="#1cc400"/>
<rect x="397" y="144" width="2" height="2" fill="#1cc400"/>
<rect x="428" y="143" width="2" height="2" fill="#1cc400"/>
<rect x="434" y="143" width="3" height="2" fill="#1cc400"/>
<rect x="445" y="143" width="2" height="2" fill="#1cc400"/>
<rect x="458" y="143" width="3" height="1" fill="#1cc400"/>
<rect x="482" y="143" width="3" height="2" fill="#1cc400"/>
<rect x="492" y="143" width="2" height="2" fill="#1cc400"/>
<rect x="505" y="143" width="2" height="1" fill="#1cc400"/>
<rect x="520" y="142" width="2" height="2" fill="#1cc400"/>
<rect x="541" y="142" width="2" height="2" fill="#1cc400"/>
<rect x="558" y="142" width="2" height="1" fill="#1cc400"/>
<rect x="575" y="142" width="3" height="2" fill="#1cc400"/>
<rect x="583" y="142" width="2" height="2" fill="#1cc400"/>
<rect x="605" y="141" width="2" height="2" fill="#1cc400"/>
<rect x="617" y="141" width="3" height="2" fill="#1cc400"/>
<rect x="624" y="141" width="2" height="2" fill="#1cc400"/>
<rect x="628" y="141" width="3" height="2" fill="#1cc400"/>
<rect x="640" y="141" width="1" height="3" fill="#1cc400"/>
<rect x="648" y="141" width="3" height="2" fill="#1cc400"/>
<rect x="664" y="141" width="3" height="2" fill="#1cc400"/>
<rect x="668" y="141" width="3" height="2" fill="#1cc400"/>
<rect x="420" y="145" width="3" height="1" fill="#22c000"/>
<rect x="424" y="144" width="2" height="2" fill="#18a000"/>
<rect x="426" y="144" width="3" height="1" fill="#1aa000"/>
<rect x="434" y="144" width="3" height="2" fill="#18a000"/>
<rect x="444" y="144" width="2" height="2" fill="#1cb000"/>
<rect x="446" y="143" width="2" height="2" fill="#1aa000"/>
<rect x="454" y="145" width="2" height="2" fill="#18a000"/>
<rect x="464" y="144" width="2" height="2" fill="#1aa000"/>
<rect x="472" y="143" width="2" height="2" fill="#1cb000"/>
<rect x="476" y="144" width="2" height="2" fill="#22c000"/>
<rect x="482" y="143" width="2" height="1" fill="#1aa000"/>
<rect x="484" y="142" width="3" height="1" fill="#22c000"/>
<rect x="492" y="143" width="3" height="2" fill="#1aa000"/>
<rect x="504" y="144" width="2" height="1" fill="#1cb000"/>
<rect x="514" y="144" width="2" height="2" fill="#22c000"/>
<rect x="520" y="143" width="3" height="2" fill="#1aa000"/>
<rect x="530" y="143" width="2" height="2" fill="#1aa000"/>
<rect x="542" y="143" width="2" height="1" fill="#18a000"/>
<rect x="544" y="142" width="3" height="1" fill="#1aa000"/>
<rect x="582" y="142" width="2" height="1" fill="#18a000"/>
<rect x="584" y="142" width="2" height="1" fill="#1cb000"/>
<rect x="592" y="143" width="2" height="1" fill="#1cb000"/>
<rect x="596" y="142" width="2" height="1" fill="#1cb000"/>
<rect x="602" y="141" width="3" height="1" fill="#18a000"/>
<rect x="608" y="143" width="2" height="1" fill="#22c000"/>
<rect x="612" y="143" width="3" height="2" fill="#18a000"/>
<rect x="616" y="142" width="2" height="1" fill="#18a000"/>
<rect x="622" y="141" width="2" height="2" fill="#18a000"/>
<rect x="638" y="141" width="2" height="1" fill="#1aa000"/>
<rect x="642" y="141" width="2" height="1" fill="#1aa000"/>
<rect x="654" y="141" width="2" height="1" fill="#18a000"/>
<rect x="656" y="141" width="2" height="2" fill="#18a000"/>
<rect x="660" y="140" width="3" height="2" fill="#1cb000"/>
<rect x="668" y="141" width="3" height="2" fill="#1cb000"/>
<rect x="98" y="191" width="2" height="2" fill="#1cc400"/>
<rect x="101" y="191" width="13" height="2" fill="#1cc400"/>
<rect x="114" y="190" width="2" height="1" fill="#1cc400"/>
<rect x="101" y="195" width="3" height="2" fill="#1cc400"/>
<rect x="105" y="195" width="4" height="2" fill="#1cc400"/>
<rect x="109" y="199" width="4" height="1" fill="#1cc400"/>
<rect x="98" y="200" width="2" height="2" fill="#1cc400"/>
<rect x="127" y="199" width="5" height="2" fill="#1cc400"/>
<rect x="130" y="197" width="2" height="1" fill="#1cc400"/>
<rect x="143" y="194" width="2" height="1" fill="#1cc400"/>
<rect x="194" y="197" width="2" height="2" fill="#1cc400"/>
<rect x="240" y="195" width="2" height="2" fill="#1cc400"/>
<rect x="332" y="183" width="1" height="3" fill="#20aa00"/>
<rect x="333" y="187" width="1" height="4" fill="#1a8a00"/>
<rect x="334" y="195" width="1" height="1" fill="#187e00"/>
<rect x="335" y="185" width="1" height="3" fill="#1c9a00"/>
<rect x="335" y="188" width="1" height="2" fill="#1c9a00"/>
<rect x="335" y="190" width="1" height="3" fill="#1c9a00"/>
<rect x="335" y="193" width="1" height="3" fill="#20aa00"/>
<rect x="336" y="183" width="1" height="3" fill="#22b800"/>
<rect x="336" y="194" width="1" height="2" fill="#22b800"/>
<rect x="337" y="183" width="1" height="3" fill="#22b800"/>
<rect x="338" y="183" width="1" height="3" fill="#1c9a00"/>
<rect x="338" y="189" width="1" height="2" fill="#187e00"/>
<rect x="339" y="191" width="1" height="5" fill="#1c9a00"/>
<rect x="342" y="183" width="1" height="3" fill="#1c9a00"/>
<rect x="343" y="192" width="1" height="3" fill="#1c9a00"/>
<rect x="343" y="195" width="1" height="1" fill="#187e00"/>
<rect x="344" y="190" width="1" height="5" fill="#1a8a00"/>
<rect x="346" y="183" width="1" height="4" fill="#187e00"/>
<rect x="346" y="187" width="1" height="5" fill="#1c9a00"/>
<rect x="347" y="183" width="1" height="5" fill="#1a8a00"/>
<rect x="347" y="188" width="1" height="5" fill="#20aa00"/>
<rect x="347" y="195" width="1" height="1" fill="#20aa00"/>
<rect x="359" y="195" width="1" height="1" fill="#187e00"/>
<rect x="361" y="188" width="1" height="2" fill="#1a8a00"/>
<rect x="363" y="189" width="1" height="2" fill="#20aa00"/>
<rect x="370" y="189" width="1" height="5" fill="#187e00"/>
<rect x="373" y="183" width="1" height="5" fill="#20aa00"/>
<rect x="373" y="188" width="1" height="5" fill="#187e00"/>
<rect x="374" y="183" width="1" height="5" fill="#1c9a00"/>
<rect x="374" y="188" width="1" height="5" fill="#1c9a00"/>
<rect x="374" y="193" width="1" height="3" fill="#1c9a00"/>
<rect x="375" y="191" width="1" height="2" fill="#20aa00"/>
<rect x="375" y="193" width="1" height="3" fill="#22b800"/>
<rect x="376" y="183" width="1" height="2" fill="#1a8a00"/>
<rect x="377" y="191" width="1" height="3" fill="#20aa00"/>
<rect x="379" y="188" width="1" height="4" fill="#187e00"/>
<rect x="380" y="183" width="1" height="3" fill="#187e00"/>
<rect x="380" y="186" width="1" height="5" fill="#1a8a00"/>
<rect x="381" y="188" width="1" height="4" fill="#22b800"/>
<rect x="382" y="183" width="1" height="4" fill="#1a8a00"/>
<rect x="382" y="187" width="1" height="3" fill="#1a8a00"/>
<rect x="382" y="194" width="1" height="2" fill="#187e00"/>
<rect x="384" y="185" width="1" height="4" fill="#20aa00"/>
<rect x="386" y="194" width="1" height="1" fill="#1a8a00"/>
<rect x="396" y="182" width="1" height="3" fill="#1c9a00"/>
<rect x="396" y="190" width="1" height="3" fill="#1c9a00"/>
<rect x="396" y="193" width="1" height="1" fill="#1a8a00"/>
<rect x="397" y="186" width="1" height="4" fill="#22b800"/>
<rect x="397" y="190" width="1" height="4" fill="#20aa00"/>
<rect x="398" y="182" width="1" height="5" fill="#1a8a00"/>
<rect x="398" y="187" width="1" height="5" fill="#20aa00"/>
<rect x="398" y="192" width="1" height="2" fill="#1a8a00"/>
<rect x="399" y="182" width="1" height="2" fill="#187e00"/>
<rect x="399" y="184" width="1" height="5" fill="#22b800"/>
<rect x="400" y="182" width="1" height="5" fill="#1c9a00"/>
<rect x="400" y="187" width="1" height="3" fill="#20aa00"/>
<rect x="400" y="192" width="1" height="2" fill="#1a8a00"/>
<rect x="401" y="188" width="1" height="2" fill="#22b800"/>
<rect x="402" y="182" width="1" height="3" fill="#1c9a00"/>
<rect x="403" y="182" width="1" height="3" fill="#20aa00"/>
<rect x="409" y="186" width="1" height="2" fill="#20aa00"/>
<rect x="410" y="185" width="1" height="2" fill="#1c9a00"/>
<rect x="410" y="187" width="1" height="4" fill="#22b800"/>
<rect x="411" y="187" width="1" height="3" fill="#22b800"/>
<rect x="411" y="190" width="1" height="4" fill="#1c9a00"/>
<rect x="412" y="185" width="1" height="5" fill="#1a8a00"/>
<rect x="414" y="182" width="1" height="5" fill="#1c9a00"/>
<rect x="414" y="187" width="1" height="2" fill="#1c9a00"/>
<rect x="414" y="189" width="1" height="5" fill="#1a8a00"/>
<rect x="415" y="184" width="1" height="2" fill="#22b800"/>
<rect x="424" y="188" width="1" height="2" fill="#1c9a00"/>
<rect x="425" y="182" width="1" height="4" fill="#22b800"/>
<rect x="425" y="188" width="1" height="5" fill="#1a8a00"/>
<rect x="425" y="193" width="1" height="1" fill="#1c9a00"/>
<rect x="426" y="184" width="1" height="4" fill="#1a8a00"/>
<rect x="426" y="190" width="1" height="3" fill="#20aa00"/>
<rect x="426" y="193" width="1" height="1" fill="#20aa00"/>
<rect x="428" y="184" width="1" height="2" fill="#1c9a00"/>
<rect x="428" y="186" width="1" height="4" fill="#1c9a00"/>
<rect x="428" y="193" width="1" height="1" fill="#20aa00"/>
<rect x="429" y="182" width="1" height="3" fill="#22b800"/>
<rect x="429" y="185" width="1" height="3" fill="#1c9a00"/>
<rect x="429" y="188" width="1" height="2" fill="#1c9a00"/>
<rect x="430" y="189" width="1" height="4" fill="#1a8a00"/>
<rect x="431" y="182" width="1" height="3" fill="#1c9a00"/>
<rect x="431" y="185" width="1" height="2" fill="#22b800"/>
<rect x="431" y="189" width="1" height="4" fill="#187e00"/>
<rect x="431" y="193" width="1" height="1" fill="#1c9a00"/>
<rect x="432" y="182" width="1" height="4" fill="#20aa00"/>
<rect x="432" y="191" width="1" height="3" fill="#1a8a00"/>
<rect x="433" y="182" width="1" height="5" fill="#22b800"/>
<rect x="433" y="187" width="1" height="2" fill="#20aa00"/>
<rect x="439" y="188" width="1" height="5" fill="#1a8a00"/>
<rect x="441" y="181" width="1" height="2" fill="#20aa00"/>
<rect x="441" y="192" width="1" height="1" fill="#187e00"/>
<rect x="442" y="181" width="1" height="5" fill="#22b800"/>
<rect x="443" y="190" width="1" height="2" fill="#22b800"/>
<rect x="443" y="192" width="1" height="1" fill="#1a8a00"/>
<rect x="444" y="181" width="1" height="4" fill="#22b800"/>
<rect x="445" y="190" width="1" height="3" fill="#1a8a00"/>
<rect x="446" y="192" width="1" height="1" fill="#187e00"/>
<rect x="447" y="181" width="1" height="2" fill="#187e00"/>
<rect x="447" y="192" width="1" height="1" fill="#187e00"/>
<rect x="448" y="184" width="1" height="5" fill="#1a8a00"/>
<rect x="452" y="181" width="1" height="5" fill="#20aa00"/>
<rect x="452" y="186" width="1" height="4" fill="#20aa00"/>
<rect x="453" y="188" width="1" height="4" fill="#20aa00"/>
<rect x="453" y="192" width="1" height="1" fill="#22b800"/>
<rect x="455" y="184" width="1" height="4" fill="#1c9a00"/>
<rect x="457" y="181" width="1" height="4" fill="#1a8a00"/>
<rect x="461" y="185" width="1" height="2" fill="#1c9a00"/>
<rect x="462" y="186" width="1" height="3" fill="#187e00"/>
<rect x="463" y="181" width="1" height="3" fill="#20aa00"/>
<rect x="463" y="184" width="1" height="5" fill="#1c9a00"/>
<rect x="463" y="189" width="1" height="4" fill="#187e00"/>
<rect x="464" y="181" width="1" height="5" fill="#20aa00"/>
<rect x="465" y="181" width="1" height="4" fill="#20aa00"/>
<rect x="465" y="190" width="1" height="2" fill="#22b800"/>
<rect x="466" y="183" width="1" height="2" fill="#1a8a00"/>
<rect x="469" y="184" width="1" height="4" fill="#22b800"/>
<rect x="474" y="183" width="1" height="2" fill="#22b800"/>
<rect x="475" y="186" width="1" height="4" fill="#22b800"/>
<rect x="476" y="181" width="1" height="3" fill="#1c9a00"/>
<rect x="477" y="186" width="1" height="4" fill="#1c9a00"/>
<rect x="478" y="187" width="1" height="3" fill="#187e00"/>
<rect x="479" y="185" width="1" height="4" fill="#187e00"/>
<rect x="479" y="192" width="1" height="1" fill="#1a8a00"/>
<rect x="483" y="192" width="1" height="1" fill="#1a8a00"/>
<rect x="484" y="181" width="1" height="2" fill="#20aa00"/>
<rect x="484" y="191" width="1" height="2" fill="#187e00"/>
<rect x="485" y="189" width="1" height="2" fill="#22b800"/>
<rect x="486" y="181" width="1" height="2" fill="#1a8a00"/>
<rect x="486" y="188" width="1" height="3" fill="#20aa00"/>
<rect x="486" y="191" width="1" height="2" fill="#187e00"/>
<rect x="487" y="181" width="1" height="3" fill="#1c9a00"/>
<rect x="487" y="184" width="1" height="4" fill="#1a8a00"/>
<rect x="487" y="188" width="1" height="5" fill="#1c9a00"/>
<rect x="489" y="181" width="1" height="2" fill="#22b800"/>
<rect x="489" y="186" width="1" height="5" fill="#1a8a00"/>
<rect x="490" y="181" width="1" height="3" fill="#20aa00"/>
<rect x="490" y="184" width="1" height="4" fill="#22b800"/>
<rect x="490" y="190" width="1" height="2" fill="#22b800"/>
<rect x="490" y="192" width="1" height="1" fill="#1a8a00"/>
<rect x="492" y="182" width="1" height="4" fill="#1c9a00"/>
<rect x="493" y="191" width="1" height="1" fill="#22b800"/>
<rect x="495" y="189" width="1" height="3" fill="#1a8a00"/>
<rect x="496" y="180" width="1" height="2" fill="#187e00"/>
<rect x="496" y="185" width="1" height="3" fill="#187e00"/>
<rect x="496" y="188" width="1" height="3" fill="#20aa00"/>
<rect x="497" y="180" width="1" height="3" fill="#1c9a00"/>
<rect x="497" y="187" width="1" height="5" fill="#22b800"/>
<rect x="498" y="185" width="1" height="4" fill="#1a8a00"/>
<rect x="499" y="184" width="1" height="3" fill="#20aa00"/>
<rect x="500" y="182" width="1" height="4" fill="#1c9a00"/>
<rect x="501" y="180" width="1" height="5" fill="#22b800"/>
<rect x="501" y="185" width="1" height="4" fill="#187e00"/>
<rect x="501" y="191" width="1" height="1" fill="#1a8a00"/>
<rect x="503" y="180" width="1" height="3" fill="#22b800"/>
<rect x="503" y="186" width="1" height="3" fill="#22b800"/>
<rect x="504" y="182" width="1" height="4" fill="#187e00"/>
<rect x="504" y="186" width="1" height="2" fill="#187e00"/>
<rect x="504" y="191" width="1" height="1" fill="#22b800"/>
<rect x="505" y="180" width="1" height="4" fill="#20aa00"/>
<rect x="505" y="191" width="1" height="1" fill="#1a8a00"/>
<rect x="506" y="189" width="1" height="2" fill="#1c9a00"/>
<rect x="507" y="182" width="1" height="3" fill="#1c9a00"/>
<rect x="507" y="188" width="1" height="3" fill="#20aa00"/>
<rect x="507" y="191" width="1" height="1" fill="#1a8a00"/>
<rect x="508" y="180" width="1" height="4" fill="#22b800"/>
<rect x="508" y="189" width="1" height="3" fill="#1c9a00"/>
<rect x="509" y="180" width="1" height="3" fill="#1c9a00"/>
<rect x="509" y="188" width="1" height="4" fill="#1c9a00"/>
<rect x="513" y="180" width="1" height="2" fill="#1a8a00"/>
<rect x="513" y="182" width="1" height="4" fill="#187e00"/>
<rect x="513" y="188" width="1" height="3" fill="#187e00"/>
<rect x="514" y="180" width="1" height="2" fill="#187e00"/>
<rect x="515" y="180" width="1" height="2" fill="#22b800"/>
<rect x="516" y="180" width="1" height="4" fill="#1c9a00"/>
<rect x="516" y="184" width="1" height="5" fill="#1c9a00"/>
<rect x="516" y="189" width="1" height="3" fill="#20aa00"/>
<rect x="517" y="180" width="1" height="3" fill="#22b800"/>
<rect x="517" y="183" width="1" height="4" fill="#22b800"/>
<rect x="518" y="185" width="1" height="4" fill="#1c9a00"/>
<rect x="520" y="185" width="1" height="2" fill="#1a8a00"/>
<rect x="521" y="180" width="1" height="5" fill="#20aa00"/>
<rect x="522" y="184" width="1" height="3" fill="#1c9a00"/>
<rect x="523" y="182" width="1" height="5" fill="#1c9a00"/>
<rect x="524" y="180" width="1" height="4" fill="#1a8a00"/>
<rect x="524" y="190" width="1" height="2" fill="#1a8a00"/>
<rect x="526" y="184" width="1" height="2" fill="#187e00"/>
<rect x="526" y="186" width="1" height="5" fill="#20aa00"/>
<rect x="526" y="191" width="1" height="1" fill="#22b800"/>
<rect x="527" y="187" width="1" height="5" fill="#20aa00"/>
<rect x="529" y="180" width="1" height="4" fill="#22b800"/>
<rect x="529" y="190" width="1" height="2" fill="#20aa00"/>
<rect x="530" y="180" width="1" height="5" fill="#22b800"/>
<rect x="531" y="185" width="1" height="4" fill="#20aa00"/>
<rect x="539" y="183" width="1" height="2" fill="#1c9a00"/>
<rect x="541" y="180" width="1" height="3" fill="#1c9a00"/>
<rect x="546" y="180" width="1" height="3" fill="#1a8a00"/>
<rect x="554" y="185" width="1" height="3" fill="#1c9a00"/>
<rect x="555" y="185" width="1" height="3" fill="#187e00"/>
<rect x="555" y="190" width="1" height="2" fill="#1c9a00"/>
<rect x="556" y="186" width="1" height="4" fill="#20aa00"/>
<rect x="556" y="190" width="1" height="2" fill="#1a8a00"/>
<rect x="557" y="180" width="1" height="5" fill="#187e00"/>
<rect x="558" y="179" width="1" height="3" fill="#20aa00"/>
<rect x="558" y="182" width="1" height="5" fill="#187e00"/>
<rect x="558" y="190" width="1" height="1" fill="#1c9a00"/>
<rect x="559" y="179" width="1" height="3" fill="#20aa00"/>
<rect x="559" y="185" width="1" height="2" fill="#22b800"/>
<rect x="559" y="187" width="1" height="3" fill="#20aa00"/>
<rect x="559" y="190" width="1" height="1" fill="#1c9a00"/>
<rect x="560" y="183" width="1" height="3" fill="#1a8a00"/>
<rect x="562" y="181" width="1" height="2" fill="#20aa00"/>
<rect x="562" y="190" width="1" height="1" fill="#187e00"/>
<rect x="563" y="179" width="1" height="3" fill="#1c9a00"/>
<rect x="563" y="186" width="1" height="5" fill="#20aa00"/>
<rect x="564" y="179" width="1" height="5" fill="#1a8a00"/>
<rect x="564" y="189" width="1" height="2" fill="#1a8a00"/>
<rect x="565" y="181" width="1" height="4" fill="#1a8a00"/>
<rect x="565" y="185" width="1" height="3" fill="#1a8a00"/>
<rect x="565" y="188" width="1" height="2" fill="#20aa00"/>
<rect x="565" y="190" width="1" height="1" fill="#20aa00"/>
<rect x="568" y="182" width="1" height="3" fill="#1c9a00"/>
<rect x="570" y="181" width="1" height="2" fill="#1a8a00"/>
<rect x="570" y="183" width="1" height="2" fill="#20aa00"/>
<rect x="570" y="185" width="1" height="4" fill="#20aa00"/>
<rect x="571" y="179" width="1" height="3" fill="#187e00"/>
<rect x="571" y="182" width="1" height="4" fill="#22b800"/>
<rect x="571" y="186" width="1" height="2" fill="#187e00"/>
<rect x="571" y="188" width="1" height="3" fill="#20aa00"/>
<rect x="572" y="179" width="1" height="4" fill="#187e00"/>
<rect x="572" y="183" width="1" height="5" fill="#22b800"/>
<rect x="572" y="188" width="1" height="3" fill="#1c9a00"/>
<rect x="573" y="187" width="1" height="2" fill="#1c9a00"/>
<rect x="574" y="179" width="1" height="3" fill="#1a8a00"/>
<rect x="574" y="182" width="1" height="3" fill="#20aa00"/>
<rect x="574" y="185" width="1" height="4" fill="#20aa00"/>
<rect x="574" y="189" width="1" height="2" fill="#1a8a00"/>
<rect x="575" y="183" width="1" height="4" fill="#1c9a00"/>
<rect x="577" y="189" width="1" height="2" fill="#1c9a00"/>
<rect x="578" y="179" width="1" height="5" fill="#1a8a00"/>
<rect x="578" y="184" width="1" height="4" fill="#22b800"/>
<rect x="578" y="188" width="1" height="3" fill="#1c9a00"/>
<rect x="579" y="179" width="1" height="2" fill="#187e00"/>
<rect x="579" y="181" width="1" height="4" fill="#1c9a00"/>
<rect x="579" y="188" width="1" height="3" fill="#1c9a00"/>
<rect x="580" y="188" width="1" height="3" fill="#20aa00"/>
<rect x="581" y="179" width="1" height="5" fill="#22b800"/>
<rect x="586" y="179" width="1" height="5" fill="#1a8a00"/>
<rect x="586" y="190" width="1" height="1" fill="#20aa00"/>
<rect x="587" y="179" width="1" height="2" fill="#20aa00"/>
<rect x="587" y="181" width="1" height="5" fill="#187e00"/>
<rect x="590" y="188" width="1" height="3" fill="#20aa00"/>
<rect x="591" y="179" width="1" height="3" fill="#20aa00"/>
<rect x="591" y="184" width="1" height="2" fill="#22b800"/>
<rect x="592" y="179" width="1" height="4" fill="#22b800"/>
<rect x="592" y="187" width="1" height="2" fill="#1a8a00"/>
<rect x="592" y="189" width="1" height="2" fill="#187e00"/>
<rect x="593" y="181" width="1" height="5" fill="#1c9a00"/>
<rect x="593" y="186" width="1" height="5" fill="#20aa00"/>
<rect x="594" y="179" width="1" height="3" fill="#20aa00"/>
<rect x="594" y="187" width="1" height="4" fill="#20aa00"/>
<rect x="595" y="179" width="1" height="5" fill="#20aa00"/>
<rect x="595" y="184" width="1" height="3" fill="#187e00"/>
<rect x="595" y="189" width="1" height="2" fill="#22b800"/>
<rect x="598" y="188" width="1" height="3" fill="#22b800"/>
<rect x="600" y="179" width="1" height="4" fill="#20aa00"/>
<rect x="600" y="183" width="1" height="4" fill="#22b800"/>
<rect x="601" y="186" width="1" height="2" fill="#20aa00"/>
<rect x="602" y="190" width="1" height="1" fill="#22b800"/>
<rect x="603" y="179" width="1" height="5" fill="#20aa00"/>
<rect x="603" y="188" width="1" height="3" fill="#1a8a00"/>
<rect x="604" y="182" width="1" height="3" fill="#1c9a00"/>
<rect x="604" y="185" width="1" height="5" fill="#187e00"/>
<rect x="605" y="179" width="1" height="2" fill="#20aa00"/>
<rect x="605" y="185" width="1" height="4" fill="#1a8a00"/>
<rect x="608" y="179" width="1" height="4" fill="#1c9a00"/>
<rect x="608" y="183" width="1" height="3" fill="#187e00"/>
<rect x="609" y="179" width="1" height="2" fill="#1c9a00"/>
<rect x="609" y="181" width="1" height="3" fill="#1c9a00"/>
<rect x="609" y="190" width="1" height="1" fill="#22b800"/>
<rect x="610" y="179" width="1" height="2" fill="#1c9a00"/>
<rect x="610" y="181" width="1" height="3" fill="#1c9a00"/>
<rect x="610" y="184" width="1" height="5" fill="#20aa00"/>
<rect x="610" y="189" width="1" height="2" fill="#187e00"/>
<rect x="611" y="179" width="1" height="2" fill="#22b800"/>
<rect x="611" y="185" width="1" height="5" fill="#187e00"/>
<rect x="611" y="190" width="1" height="1" fill="#20aa00"/>
<rect x="612" y="179" width="1" height="4" fill="#22b800"/>
<rect x="612" y="183" width="1" height="4" fill="#1c9a00"/>
<rect x="612" y="187" width="1" height="3" fill="#22b800"/>
<rect x="612" y="190" width="1" height="1" fill="#20aa00"/>
<rect x="615" y="184" width="1" height="4" fill="#20aa00"/>
<rect x="615" y="188" width="1" height="3" fill="#22b800"/>
<rect x="616" y="179" width="1" height="5" fill="#20aa00"/>
<rect x="616" y="187" width="1" height="3" fill="#1c9a00"/>
<rect x="617" y="179" width="1" height="2" fill="#22b800"/>
<rect x="617" y="184" width="1" height="3" fill="#22b800"/>
<rect x="618" y="182" width="1" height="3" fill="#20aa00"/>
<rect x="618" y="185" width="1" height="3" fill="#187e00"/>
<rect x="620" y="179" width="1" height="2" fill="#1c9a00"/>
<rect x="620" y="188" width="1" height="3" fill="#22b800"/>
<rect x="621" y="189" width="1" height="2" fill="#1c9a00"/>
<rect x="624" y="186" width="1" height="4" fill="#1c9a00"/>
<rect x="626" y="178" width="1" height="4" fill="#187e00"/>
<rect x="627" y="180" width="1" height="2" fill="#20aa00"/>
<rect x="627" y="185" width="1" height="4" fill="#1a8a00"/>
<rect x="629" y="178" width="1" height="2" fill="#22b800"/>
<rect x="629" y="187" width="1" height="3" fill="#1c9a00"/>
<rect x="630" y="180" width="1" height="3" fill="#1c9a00"/>
<rect x="630" y="183" width="1" height="3" fill="#22b800"/>
<rect x="630" y="186" width="1" height="3" fill="#22b800"/>
<rect x="630" y="189" width="1" height="1" fill="#187e00"/>
<rect x="631" y="178" width="1" height="2" fill="#1a8a00"/>
<rect x="631" y="180" width="1" height="3" fill="#20aa00"/>
<rect x="631" y="183" width="1" height="3" fill="#20aa00"/>
<rect x="631" y="188" width="1" height="2" fill="#187e00"/>
<rect x="632" y="178" width="1" height="4" fill="#20aa00"/>
<rect x="632" y="182" width="1" height="2" fill="#22b800"/>
<rect x="632" y="184" width="1" height="4" fill="#187e00"/>
<rect x="632" y="188" width="1" height="2" fill="#20aa00"/>
<rect x="633" y="178" width="1" height="5" fill="#1a8a00"/>
<rect x="633" y="183" width="1" height="5" fill="#187e00"/>
<rect x="634" y="178" width="1" height="2" fill="#22b800"/>
<rect x="634" y="180" width="1" height="4" fill="#187e00"/>
<rect x="634" y="184" width="1" height="3" fill="#1c9a00"/>
<rect x="634" y="187" width="1" height="2" fill="#1c9a00"/>
<rect x="634" y="189" width="1" height="1" fill="#22b800"/>
<rect x="635" y="178" width="1" height="4" fill="#187e00"/>
<rect x="635" y="182" width="1" height="4" fill="#22b800"/>
<rect x="635" y="186" width="1" height="2" fill="#187e00"/>
<rect x="635" y="188" width="1" height="2" fill="#187e00"/>
<rect x="636" y="178" width="1" height="3" fill="#187e00"/>
<rect x="636" y="181" width="1" height="4" fill="#187e00"/>
<rect x="636" y="185" width="1" height="4" fill="#20aa00"/>
<rect x="636" y="189" width="1" height="1" fill="#22b800"/>
<rect x="637" y="181" width="1" height="4" fill="#187e00"/>
<rect x="637" y="185" width="1" height="4" fill="#187e00"/>
<rect x="638" y="180" width="1" height="4" fill="#22b800"/>
<rect x="638" y="184" width="1" height="3" fill="#1a8a00"/>
<rect x="638" y="187" width="1" height="3" fill="#187e00"/>
<rect x="639" y="178" width="1" height="3" fill="#1c9a00"/>
<rect x="639" y="181" width="1" height="4" fill="#187e00"/>
<rect x="639" y="185" width="1" height="2" fill="#20aa00"/>
<rect x="639" y="187" width="1" height="3" fill="#20aa00"/>
<rect x="640" y="178" width="1" height="4" fill="#1c9a00"/>
<rect x="640" y="182" width="1" height="4" fill="#187e00"/>
<rect x="640" y="186" width="1" height="2" fill="#187e00"/>
<rect x="640" y="188" width="1" height="2" fill="#1a8a00"/>
<rect x="641" y="178" width="1" height="2" fill="#20aa00"/>
<rect x="641" y="180" width="1" height="5" fill="#1a8a00"/>
<rect x="641" y="185" width="1" height="4" fill="#187e00"/>
<rect x="641" y="189" width="1" height="1" fill="#1a8a00"/>
<rect x="642" y="178" width="1" height="2" fill="#1c9a00"/>
<rect x="642" y="180" width="1" height="3" fill="#22b800"/>
<rect x="642" y="187" width="1" height="3" fill="#187e00"/>
<rect x="643" y="178" width="1" height="2" fill="#187e00"/>
<rect x="643" y="180" width="1" height="2" fill="#187e00"/>
<rect x="643" y="182" width="1" height="4" fill="#20aa00"/>
<rect x="643" y="186" width="1" height="2" fill="#187e00"/>
<rect x="643" y="188" width="1" height="2" fill="#20aa00"/>
<rect x="644" y="178" width="1" height="5" fill="#22b800"/>
<rect x="644" y="183" width="1" height="4" fill="#187e00"/>
<rect x="645" y="181" width="1" height="4" fill="#1a8a00"/>
<rect x="645" y="189" width="1" height="1" fill="#187e00"/>
<rect x="646" y="178" width="1" height="5" fill="#187e00"/>
<rect x="646" y="183" width="1" height="2" fill="#22b800"/>
<rect x="647" y="178" width="1" height="5" fill="#187e00"/>
<rect x="647" y="186" width="1" height="4" fill="#1a8a00"/>
<rect x="648" y="178" width="1" height="2" fill="#1a8a00"/>
<rect x="648" y="180" width="1" height="5" fill="#20aa00"/>
<rect x="648" y="185" width="1" height="4" fill="#187e00"/>
<rect x="648" y="189" width="1" height="1" fill="#1c9a00"/>
<rect x="649" y="178" width="1" height="2" fill="#1c9a00"/>
<rect x="649" y="180" width="1" height="3" fill="#1c9a00"/>
<rect x="649" y="183" width="1" height="3" fill="#187e00"/>
<rect x="649" y="186" width="1" height="2" fill="#187e00"/>
<rect x="650" y="180" width="1" height="3" fill="#1a8a00"/>
<rect x="650" y="183" width="1" height="2" fill="#22b800"/>
<rect x="650" y="185" width="1" height="4" fill="#1c9a00"/>
<rect x="650" y="189" width="1" height="1" fill="#20aa00"/>
<rect x="652" y="187" width="1" height="3" fill="#22b800"/>
<rect x="655" y="178" width="1" height="4" fill="#1a8a00"/>
<rect x="655" y="182" width="1" height="5" fill="#1a8a00"/>
<rect x="655" y="187" width="1" height="3" fill="#187e00"/>
<rect x="656" y="181" width="1" height="2" fill="#1c9a00"/>
<rect x="656" y="183" width="1" height="2" fill="#1c9a00"/>
<rect x="656" y="185" width="1" height="5" fill="#22b800"/>
<rect x="657" y="178" width="1" height="3" fill="#20aa00"/>
<rect x="657" y="181" width="1" height="3" fill="#1a8a00"/>
<rect x="657" y="187" width="1" height="3" fill="#187e00"/>
<rect x="658" y="178" width="1" height="2" fill="#1c9a00"/>
<rect x="658" y="180" width="1" height="2" fill="#20aa00"/>
<rect x="659" y="178" width="1" height="3" fill="#187e00"/>
<rect x="659" y="189" width="1" height="1" fill="#20aa00"/>
<rect x="660" y="178" width="1" height="4" fill="#1a8a00"/>
<rect x="660" y="185" width="1" height="3" fill="#1c9a00"/>
<rect x="660" y="188" width="1" height="2" fill="#20aa00"/>
<rect x="662" y="178" width="1" height="5" fill="#20aa00"/>
<rect x="663" y="178" width="1" height="4" fill="#187e00"/>
<rect x="664" y="186" width="1" height="4" fill="#22b800"/>
<rect x="665" y="180" width="1" height="4" fill="#1a8a00"/>
<rect x="665" y="184" width="1" height="4" fill="#20aa00"/>
<rect x="665" y="188" width="1" height="2" fill="#1a8a00"/>
<rect x="666" y="182" width="1" height="3" fill="#20aa00"/>
<rect x="666" y="187" width="1" height="3" fill="#22b800"/>
<rect x="667" y="180" width="1" height="5" fill="#1c9a00"/>
<rect x="667" y="185" width="1" height="2" fill="#1c9a00"/>
<rect x="668" y="178" width="1" height="3" fill="#20aa00"/>
<rect x="668" y="181" width="1" height="2" fill="#1a8a00"/>
<rect x="668" y="183" width="1" height="4" fill="#1c9a00"/>
<rect x="668" y="187" width="1" height="3" fill="#187e00"/>
<rect x="669" y="178" width="1" height="4" fill="#1c9a00"/>
<rect x="669" y="184" width="1" height="2" fill="#20aa00"/>
<rect x="669" y="186" width="1" height="2" fill="#1a8a00"/>
<rect x="669" y="188" width="1" height="2" fill="#1c9a00"/>
<rect x="670" y="178" width="1" height="4" fill="#1a8a00"/>
<rect x="670" y="182" width="1" height="4" fill="#1a8a00"/>
<rect x="671" y="178" width="1" height="2" fill="#1c9a00"/>
<rect x="671" y="188" width="1" height="2" fill="#1a8a00"/>
<rect x="112" y="274" width="2" height="2" fill="#1cc400"/>
<rect x="127" y="276" width="2" height="2" fill="#1cc400"/>
<rect x="131" y="277" width="2" height="2" fill="#1cc400"/>
<rect x="144" y="271" width="3" height="1" fill="#1cc400"/>
<rect x="146" y="273" width="2" height="1" fill="#1cc400"/>
<rect x="216" y="271" width="2" height="2" fill="#1cc400"/>
<rect x="288" y="272" width="2" height="2" fill="#1cc400"/>
<rect x="299" y="265" width="2" height="2" fill="#1cc400"/>
<rect x="328" y="264" width="3" height="2" fill="#1cc400"/>
<rect x="339" y="265" width="2" height="2" fill="#1cc400"/>
<rect x="345" y="269" width="2" height="2" fill="#1cc400"/>
<rect x="370" y="267" width="2" height="2" fill="#1cc400"/>
<rect x="376" y="265" width="2" height="2" fill="#1cc400"/>
<rect x="379" y="268" width="2" height="2" fill="#1cc400"/>
<rect x="385" y="263" width="2" height="2" fill="#1cc400"/>
<rect x="391" y="263" width="2" height="2" fill="#1cc400"/>
<rect x="401" y="266" width="1" height="2" fill="#22b800"/>
<rect x="403" y="267" width="1" height="2" fill="#22b800"/>
<rect x="405" y="265" width="1" height="2" fill="#187e00"/>
<rect x="405" y="267" width="1" height="1" fill="#1a8a00"/>
<rect x="409" y="262" width="1" height="3" fill="#22b800"/>
<rect x="411" y="264" width="1" height="3" fill="#20aa00"/>
<rect x="424" y="264" width="1" height="4" fill="#1c9a00"/>
<rect x="426" y="262" width="1" height="2" fill="#1a8a00"/>
<rect x="426" y="264" width="1" height="2" fill="#187e00"/>
<rect x="426" y="266" width="1" height="2" fill="#20aa00"/>
<rect x="427" y="266" width="1" height="2" fill="#22b800"/>
<rect x="428" y="262" width="1" height="2" fill="#1c9a00"/>
<rect x="428" y="267" width="1" height="1" fill="#20aa00"/>
<rect x="429" y="262" width="1" height="2" fill="#1a8a00"/>
<rect x="430" y="262" width="1" height="3" fill="#20aa00"/>
<rect x="431" y="262" width="1" height="4" fill="#1a8a00"/>
<rect x="431" y="266" width="1" height="2" fill="#1c9a00"/>
<rect x="435" y="265" width="1" height="2" fill="#20aa00"/>
<rect x="435" y="267" width="1" height="1" fill="#20aa00"/>
<rect x="436" y="262" width="1" height="3" fill="#187e00"/>
<rect x="437" y="263" width="1" height="3" fill="#1c9a00"/>
<rect x="438" y="261" width="1" height="4" fill="#187e00"/>
<rect x="438" y="265" width="1" height="2" fill="#22b800"/>
<rect x="441" y="265" width="1" height="2" fill="#187e00"/>
<rect x="444" y="261" width="1" height="2" fill="#187e00"/>
<rect x="444" y="263" width="1" height="4" fill="#187e00"/>
<rect x="445" y="264" width="1" height="3" fill="#20aa00"/>
<rect x="446" y="261" width="1" height="3" fill="#22b800"/>
<rect x="447" y="261" width="1" height="4" fill="#1a8a00"/>
<rect x="447" y="265" width="1" height="2" fill="#1c9a00"/>
<rect x="448" y="261" width="1" height="2" fill="#22b800"/>
<rect x="448" y="265" width="1" height="2" fill="#187e00"/>
<rect x="453" y="264" width="1" height="3" fill="#20aa00"/>
<rect x="454" y="261" width="1" height="4" fill="#22b800"/>
<rect x="454" y="265" width="1" height="2" fill="#1c9a00"/>
<rect x="455" y="261" width="1" height="3" fill="#187e00"/>
<rect x="467" y="261" width="1" height="3" fill="#1c9a00"/>
<rect x="479" y="262" width="1" height="4" fill="#187e00"/>
<rect x="480" y="264" width="1" height="2" fill="#187e00"/>
<rect x="481" y="260" width="1" height="2" fill="#20aa00"/>
<rect x="482" y="260" width="1" height="3" fill="#1a8a00"/>
<rect x="482" y="263" width="1" height="2" fill="#1a8a00"/>
<rect x="483" y="260" width="1" height="4" fill="#1c9a00"/>
<rect x="484" y="262" width="1" height="3" fill="#1c9a00"/>
<rect x="484" y="265" width="1" height="1" fill="#1c9a00"/>
<rect x="485" y="260" width="1" height="4" fill="#187e00"/>
<rect x="486" y="260" width="1" height="3" fill="#1c9a00"/>
<rect x="487" y="263" width="1" height="3" fill="#187e00"/>
<rect x="488" y="260" width="1" height="4" fill="#187e00"/>
<rect x="489" y="260" width="1" height="4" fill="#20aa00"/>
<rect x="489" y="264" width="1" height="2" fill="#187e00"/>
<rect x="490" y="260" width="1" height="2" fill="#1a8a00"/>
<rect x="490" y="264" width="1" height="2" fill="#1a8a00"/>
<rect x="491" y="264" width="1" height="2" fill="#20aa00"/>
<rect x="493" y="264" width="1" height="2" fill="#1a8a00"/>
<rect x="494" y="260" width="1" height="3" fill="#22b800"/>
<rect x="501" y="264" width="1" height="2" fill="#187e00"/>
<rect x="502" y="262" width="1" height="3" fill="#1c9a00"/>
<rect x="502" y="265" width="1" height="1" fill="#22b800"/>
<rect x="503" y="259" width="1" height="4" fill="#1c9a00"/>
<rect x="503" y="263" width="1" height="2" fill="#1c9a00"/>
<rect x="505" y="259" width="1" height="3" fill="#22b800"/>
<rect x="505" y="262" width="1" height="3" fill="#1a8a00"/>
<rect x="506" y="259" width="1" height="2" fill="#20aa00"/>
<rect x="507" y="261" width="1" height="3" fill="#22b800"/>
<rect x="509" y="261" width="1" height="2" fill="#1a8a00"/>
<rect x="510" y="263" width="1" height="2" fill="#187e00"/>
<rect x="512" y="259" width="1" height="2" fill="#22b800"/>
<rect x="513" y="263" width="1" height="2" fill="#1c9a00"/>
<rect x="516" y="259" width="1" height="3" fill="#1a8a00"/>
<rect x="516" y="262" width="1" height="3" fill="#1c9a00"/>
<rect x="517" y="259" width="1" height="4" fill="#1a8a00"/>
<rect x="517" y="263" width="1" height="2" fill="#22b800"/>
<rect x="518" y="259" width="1" height="3" fill="#187e00"/>
<rect x="518" y="262" width="1" height="2" fill="#1c9a00"/>
<rect x="520" y="259" width="1" height="4" fill="#1c9a00"/>
<rect x="521" y="262" width="1" height="3" fill="#1a8a00"/>
<rect x="524" y="263" width="1" height="2" fill="#20aa00"/>
<rect x="525" y="259" width="1" height="4" fill="#1a8a00"/>
<rect x="525" y="263" width="1" height="2" fill="#20aa00"/>
<rect x="526" y="259" width="1" height="3" fill="#20aa00"/>
<rect x="526" y="262" width="1" height="2" fill="#22b800"/>
<rect x="527" y="259" width="1" height="2" fill="#1c9a00"/>
<rect x="527" y="263" width="1" height="2" fill="#187e00"/>
<rect x="531" y="264" width="1" height="1" fill="#20aa00"/>
<rect x="532" y="259" width="1" height="3" fill="#1a8a00"/>
<rect x="533" y="259" width="1" height="3" fill="#187e00"/>
<rect x="535" y="262" width="1" height="2" fill="#22b800"/>
<rect x="536" y="262" width="1" height="2" fill="#1a8a00"/>
<rect x="540" y="258" width="1" height="4" fill="#22b800"/>
<rect x="542" y="258" width="1" height="4" fill="#1a8a00"/>
<rect x="545" y="261" width="1" height="2" fill="#1c9a00"/>
<rect x="548" y="258" width="1" height="4" fill="#187e00"/>
<rect x="548" y="262" width="1" height="2" fill="#1c9a00"/>
<rect x="549" y="258" width="1" height="4" fill="#20aa00"/>
<rect x="549" y="262" width="1" height="2" fill="#1c9a00"/>
<rect x="550" y="258" width="1" height="4" fill="#22b800"/>
<rect x="551" y="258" width="1" height="3" fill="#1c9a00"/>
<rect x="551" y="261" width="1" height="3" fill="#187e00"/>
<rect x="553" y="263" width="1" height="1" fill="#1a8a00"/>
<rect x="555" y="258" width="1" height="2" fill="#1c9a00"/>
<rect x="556" y="258" width="1" height="4" fill="#1c9a00"/>
<rect x="556" y="262" width="1" height="2" fill="#1c9a00"/>
<rect x="557" y="258" width="1" height="3" fill="#1c9a00"/>
<rect x="557" y="261" width="1" height="3" fill="#1c9a00"/>
<rect x="558" y="258" width="1" height="2" fill="#20aa00"/>
<rect x="558" y="262" width="1" height="2" fill="#1a8a00"/>
<rect x="559" y="258" width="1" height="2" fill="#20aa00"/>
<rect x="559" y="260" width="1" height="3" fill="#22b800"/>
<rect x="559" y="263" width="1" height="1" fill="#1a8a00"/>
<rect x="560" y="258" width="1" height="2" fill="#187e00"/>
<rect x="560" y="260" width="1" height="2" fill="#1a8a00"/>
<rect x="561" y="258" width="1" height="3" fill="#187e00"/>
<rect x="562" y="258" width="1" height="2" fill="#187e00"/>
<rect x="562" y="260" width="1" height="3" fill="#1c9a00"/>
<rect x="562" y="263" width="1" height="1" fill="#1c9a00"/>
<rect x="563" y="258" width="1" height="2" fill="#187e00"/>
<rect x="563" y="260" width="1" height="2" fill="#187e00"/>
<rect x="568" y="258" width="1" height="2" fill="#22b800"/>
<rect x="568" y="260" width="1" height="3" fill="#1c9a00"/>
<rect x="568" y="263" width="1" height="1" fill="#187e00"/>
<rect x="569" y="257" width="1" height="4" fill="#187e00"/>
<rect x="569" y="261" width="1" height="2" fill="#1a8a00"/>
<rect x="570" y="260" width="1" height="3" fill="#187e00"/>
<rect x="571" y="257" width="1" height="3" fill="#22b800"/>
<rect x="572" y="257" width="1" height="4" fill="#1c9a00"/>
<rect x="575" y="261" width="1" height="2" fill="#187e00"/>
<rect x="576" y="257" width="1" height="4" fill="#1a8a00"/>
<rect x="577" y="262" width="1" height="1" fill="#1c9a00"/>
<rect x="578" y="257" width="1" height="3" fill="#1a8a00"/>
<rect x="578" y="260" width="1" height="2" fill="#187e00"/>
<rect x="578" y="262" width="1" height="1" fill="#20aa00"/>
<rect x="579" y="261" width="1" height="2" fill="#1a8a00"/>
<rect x="581" y="262" width="1" height="1" fill="#1a8a00"/>
<rect x="582" y="260" width="1" height="3" fill="#20aa00"/>
<rect x="590" y="257" width="1" height="2" fill="#1c9a00"/>
<rect x="590" y="261" width="1" height="2" fill="#1a8a00"/>
<rect x="591" y="257" width="1" height="2" fill="#22b800"/>
<rect x="592" y="257" width="1" height="4" fill="#187e00"/>
<rect x="592" y="261" width="1" height="2" fill="#22b800"/>
<rect x="594" y="257" width="1" height="4" fill="#1c9a00"/>
<rect x="595" y="257" width="1" height="4" fill="#20aa00"/>
<rect x="595" y="261" width="1" height="2" fill="#20aa00"/>
<rect x="596" y="257" width="1" height="4" fill="#1c9a00"/>
<rect x="601" y="257" width="1" height="4" fill="#20aa00"/>
<rect x="602" y="256" width="1" height="3" fill="#1a8a00"/>
<rect x="602" y="259" width="1" height="3" fill="#20aa00"/>
<rect x="603" y="256" width="1" height="2" fill="#1a8a00"/>
<rect x="603" y="261" width="1" height="1" fill="#22b800"/>
<rect x="604" y="259" width="1" height="3" fill="#20aa00"/>
<rect x="608" y="256" width="1" height="4" fill="#1a8a00"/>
<rect x="608" y="260" width="1" height="2" fill="#1a8a00"/>
<rect x="610" y="258" width="1" height="4" fill="#22b800"/>
<rect x="611" y="256" width="1" height="2" fill="#1c9a00"/>
<rect x="611" y="258" width="1" height="4" fill="#22b800"/>
<rect x="612" y="256" width="1" height="3" fill="#1c9a00"/>
<rect x="612" y="259" width="1" height="2" fill="#1a8a00"/>
<rect x="614" y="256" width="1" height="2" fill="#1c9a00"/>
<rect x="615" y="256" width="1" height="3" fill="#20aa00"/>
<rect x="615" y="259" width="1" height="3" fill="#187e00"/>
<rect x="616" y="256" width="1" height="3" fill="#1c9a00"/>
<rect x="616" y="259" width="1" height="3" fill="#1c9a00"/>
<rect x="618" y="258" width="1" height="4" fill="#22b800"/>
<rect x="621" y="259" width="1" height="3" fill="#20aa00"/>
<rect x="622" y="258" width="1" height="2" fill="#1a8a00"/>
<rect x="626" y="260" width="1" height="2" fill="#1a8a00"/>
<rect x="627" y="256" width="1" height="4" fill="#22b800"/>
<rect x="631" y="256" width="1" height="4" fill="#20aa00"/>
<rect x="631" y="260" width="1" height="2" fill="#20aa00"/>
<rect x="632" y="256" width="1" height="2" fill="#20aa00"/>
<rect x="632" y="258" width="1" height="2" fill="#20aa00"/>
<rect x="632" y="260" width="1" height="2" fill="#1a8a00"/>
<rect x="633" y="260" width="1" height="2" fill="#20aa00"/>
<rect x="634" y="256" width="1" height="2" fill="#22b800"/>
<rect x="634" y="258" width="1" height="3" fill="#187e00"/>
<rect x="634" y="261" width="1" height="1" fill="#1c9a00"/>
<rect x="635" y="255" width="1" height="2" fill="#22b800"/>
<rect x="635" y="257" width="1" height="3" fill="#1c9a00"/>
<rect x="635" y="260" width="1" height="1" fill="#22b800"/>
<rect x="636" y="255" width="1" height="2" fill="#187e00"/>
<rect x="636" y="257" width="1" height="4" fill="#20aa00"/>
<rect x="637" y="255" width="1" height="4" fill="#20aa00"/>
<rect x="637" y="259" width="1" height="2" fill="#187e00"/>
<rect x="638" y="255" width="1" height="2" fill="#20aa00"/>
<rect x="638" y="257" width="1" height="2" fill="#22b800"/>
<rect x="638" y="259" width="1" height="2" fill="#22b800"/>
<rect x="639" y="255" width="1" height="2" fill="#1c9a00"/>
<rect x="639" y="257" width="1" height="4" fill="#187e00"/>
<rect x="640" y="255" width="1" height="4" fill="#187e00"/>
<rect x="640" y="259" width="1" height="2" fill="#1c9a00"/>
<rect x="641" y="255" width="1" height="2" fill="#1a8a00"/>
<rect x="641" y="257" width="1" height="4" fill="#1c9a00"/>
<rect x="642" y="255" width="1" height="3" fill="#22b800"/>
<rect x="642" y="258" width="1" height="3" fill="#1a8a00"/>
<rect x="643" y="255" width="1" height="2" fill="#187e00"/>
<rect x="643" y="257" width="1" height="4" fill="#1c9a00"/>
<rect x="644" y="255" width="1" height="2" fill="#22b800"/>
<rect x="644" y="257" width="1" height="2" fill="#187e00"/>
<rect x="644" y="259" width="1" height="2" fill="#1a8a00"/>
<rect x="646" y="259" width="1" height="2" fill="#22b800"/>
<rect x="647" y="258" width="1" height="2" fill="#187e00"/>
<rect x="647" y="260" width="1" height="1" fill="#22b800"/>
<rect x="648" y="255" width="1" height="3" fill="#20aa00"/>
<rect x="648" y="258" width="1" height="3" fill="#187e00"/>
<rect x="649" y="257" width="1" height="2" fill="#1c9a00"/>
<rect x="650" y="257" width="1" height="3" fill="#20aa00"/>
<rect x="651" y="255" width="1" height="3" fill="#20aa00"/>
<rect x="651" y="258" width="1" height="3" fill="#1c9a00"/>
<rect x="652" y="255" width="1" height="2" fill="#187e00"/>
<rect x="656" y="255" width="1" height="3" fill="#22b800"/>
<rect x="656" y="258" width="1" height="3" fill="#1c9a00"/>
<rect x="667" y="257" width="1" height="4" fill="#187e00"/>
<rect x="668" y="254" width="1" height="3" fill="#1a8a00"/>
<rect x="670" y="254" width="1" height="4" fill="#22b800"/>
<rect x="447" y="218" width="3" height="2" fill="#20a800"/>
<rect x="452" y="222" width="4" height="2" fill="#20a800"/>
<rect x="453" y="224" width="2" height="2" fill="#1a8a00"/>
<rect x="449" y="226" width="3" height="3" fill="#1e9a00"/>
<rect x="454" y="226" width="5" height="3" fill="#1a8a00"/>
<rect x="456" y="228" width="2" height="2" fill="#1e9a00"/>
<rect x="460" y="221" width="4" height="2" fill="#20a800"/>
<rect x="461" y="223" width="2" height="3" fill="#168000"/>
<rect x="465" y="220" width="4" height="2" fill="#1e9a00"/>
<rect x="470" y="220" width="5" height="2" fill="#168000"/>
<rect x="468" y="217" width="2" height="2" fill="#1a8a00"/>
<rect x="443" y="219" width="2" height="2" fill="#168000"/>
<rect x="476" y="219" width="2" height="2" fill="#1e9a00"/>
<rect x="419" y="234" width="3" height="4" fill="#20a800"/>
<rect x="423" y="234" width="4" height="3" fill="#20a800"/>
<rect x="427" y="235" width="3" height="2" fill="#20a800"/>
<rect x="430" y="234" width="4" height="3" fill="#1e9a00"/>
<rect x="434" y="235" width="3" height="2" fill="#168000"/>
<rect x="436" y="228" width="2" height="2" fill="#1a8a00"/>
<rect x="423" y="231" width="2" height="2" fill="#1e9a00"/>
<rect x="440" y="231" width="2" height="2" fill="#168000"/>
<rect x="409" y="240" width="4" height="2" fill="#1e9a00"/>
<rect x="405" y="247" width="2" height="2" fill="#1e9a00"/>
<rect x="401" y="250" width="3" height="4" fill="#1a8a00"/>
<rect x="402" y="255" width="2" height="3" fill="#1a8a00"/>
<rect x="398" y="258" width="3" height="3" fill="#20a800"/>
<rect x="396" y="262" width="3" height="2" fill="#1a8a00"/>
<rect x="401" y="270" width="4" height="2" fill="#1a8a00"/>
<rect x="400" y="274" width="3" height="4" fill="#1e9a00"/>
<rect x="401" y="278" width="2" height="4" fill="#1a8a00"/>
<rect x="397" y="283" width="2" height="5" fill="#1e9a00"/>
<rect x="392" y="293" width="2" height="2" fill="#168000"/>
<rect x="390" y="300" width="2" height="3" fill="#1e9a00"/>
<rect x="393" y="307" width="2" height="2" fill="#1e9a00"/>
<rect x="378" y="311" width="2" height="2" fill="#1e9a00"/>
<rect x="370" y="311" width="2" height="2" fill="#1e9a00"/>
<rect x="386" y="321" width="2" height="2" fill="#168000"/>
<rect x="410" y="262" width="2" height="2" fill="#1a8a00"/>
<rect x="412" y="256" width="2" height="2" fill="#168000"/>
<rect x="396" y="314" width="2" height="2" fill="#1e9a00"/>
<rect x="510" y="207" width="2" height="2" fill="#20a800"/>
<rect x="107" y="438" width="4" height="5" fill="#20d000"/>
<rect x="111" y="440" width="3" height="3" fill="#20d000"/>
<rect x="109" y="443" width="2" height="8" fill="#20d000"/>
<rect x="113" y="450" width="2" height="3" fill="#20d000"/>
<rect x="127" y="436" width="4" height="3" fill="#20d000"/>
<rect x="128" y="439" width="4" height="8" fill="#20d000"/>
<rect x="127" y="445" width="4" height="3" fill="#20d000"/>
<rect x="128" y="447" width="5" height="4" fill="#20d000"/>
<rect x="128" y="451" width="3" height="2" fill="#20d000"/>
<rect x="142" y="438" width="3" height="3" fill="#20d000"/>
<rect x="215" y="429" width="1" height="2" fill="#20d000"/>
<rect x="243" y="411" width="1" height="2" fill="#20d000"/>
<rect x="388" y="372" width="2" height="4" fill="#156400"/>
<rect x="388" y="416" width="2" height="4" fill="#135a00"/>
<rect x="390" y="344" width="2" height="6" fill="#1a7a00"/>
<rect x="390" y="356" width="2" height="4" fill="#187000"/>
<rect x="390" y="360" width="2" height="2" fill="#187000"/>
<rect x="390" y="362" width="2" height="2" fill="#187000"/>
<rect x="390" y="380" width="2" height="2" fill="#135a00"/>
<rect x="390" y="388" width="2" height="4" fill="#156400"/>
<rect x="390" y="392" width="2" height="2" fill="#156400"/>
<rect x="390" y="398" width="2" height="2" fill="#187000"/>
<rect x="392" y="364" width="2" height="6" fill="#135a00"/>
<rect x="392" y="390" width="2" height="4" fill="#135a00"/>
<rect x="394" y="362" width="2" height="4" fill="#176c00"/>
<rect x="394" y="370" width="2" height="4" fill="#176c00"/>
<rect x="394" y="378" width="2" height="2" fill="#156400"/>
<rect x="394" y="380" width="2" height="2" fill="#156400"/>
<rect x="394" y="382" width="2" height="6" fill="#1a7a00"/>
<rect x="394" y="394" width="2" height="2" fill="#187000"/>
<rect x="394" y="404" width="2" height="4" fill="#135a00"/>
<rect x="394" y="408" width="2" height="4" fill="#135a00"/>
<rect x="396" y="362" width="2" height="4" fill="#1a7a00"/>
<rect x="396" y="366" width="2" height="4" fill="#1c8200"/>
<rect x="396" y="378" width="2" height="4" fill="#176c00"/>
<rect x="396" y="382" width="2" height="2" fill="#135a00"/>
<rect x="396" y="384" width="2" height="2" fill="#176c00"/>
<rect x="396" y="386" width="2" height="2" fill="#156400"/>
<rect x="396" y="388" width="2" height="2" fill="#156400"/>
<rect x="396" y="390" width="2" height="2" fill="#135a00"/>
<rect x="396" y="398" width="2" height="6" fill="#187000"/>
<rect x="396" y="406" width="2" height="6" fill="#187000"/>
<rect x="398" y="352" width="2" height="4" fill="#135a00"/>
<rect x="398" y="370" width="2" height="2" fill="#156400"/>
<rect x="398" y="372" width="2" height="6" fill="#187000"/>
<rect x="398" y="380" width="2" height="4" fill="#1a7a00"/>
<rect x="398" y="384" width="2" height="6" fill="#176c00"/>
<rect x="398" y="394" width="2" height="6" fill="#1a7a00"/>
<rect x="398" y="400" width="2" height="2" fill="#156400"/>
<rect x="398" y="416" width="2" height="4" fill="#1a7a00"/>
<rect x="400" y="356" width="2" height="2" fill="#176c00"/>
<rect x="400" y="358" width="2" height="2" fill="#1c8200"/>
<rect x="400" y="362" width="2" height="6" fill="#156400"/>
<rect x="400" y="368" width="2" height="2" fill="#187000"/>
<rect x="400" y="370" width="2" height="6" fill="#156400"/>
<rect x="400" y="376" width="2" height="2" fill="#1c8200"/>
<rect x="400" y="382" width="2" height="2" fill="#1c8200"/>
<rect x="400" y="384" width="2" height="2" fill="#135a00"/>
<rect x="400" y="392" width="2" height="2" fill="#1a7a00"/>
<rect x="400" y="394" width="2" height="6" fill="#187000"/>
<rect x="400" y="400" width="2" height="2" fill="#187000"/>
<rect x="400" y="402" width="2" height="2" fill="#156400"/>
<rect x="400" y="418" width="2" height="2" fill="#1c8200"/>
<rect x="402" y="362" width="2" height="4" fill="#1c8200"/>
<rect x="402" y="366" width="2" height="4" fill="#1a7a00"/>
<rect x="402" y="370" width="2" height="4" fill="#187000"/>
<rect x="402" y="374" width="2" height="2" fill="#187000"/>
<rect x="402" y="376" width="2" height="2" fill="#156400"/>
<rect x="402" y="378" width="2" height="2" fill="#176c00"/>
<rect x="402" y="380" width="2" height="6" fill="#135a00"/>
<rect x="402" y="386" width="2" height="4" fill="#156400"/>
<rect x="402" y="390" width="2" height="2" fill="#187000"/>
<rect x="402" y="394" width="2" height="2" fill="#1a7a00"/>
<rect x="402" y="398" width="2" height="4" fill="#135a00"/>
<rect x="402" y="402" width="2" height="4" fill="#156400"/>
<rect x="402" y="408" width="2" height="2" fill="#176c00"/>
<rect x="402" y="418" width="2" height="2" fill="#156400"/>
<rect x="404" y="354" width="2" height="4" fill="#187000"/>
<rect x="404" y="358" width="2" height="2" fill="#1a7a00"/>
<rect x="404" y="366" width="2" height="6" fill="#156400"/>
<rect x="404" y="374" width="2" height="2" fill="#156400"/>
<rect x="404" y="376" width="2" height="4" fill="#176c00"/>
<rect x="404" y="380" width="2" height="2" fill="#187000"/>
<rect x="404" y="382" width="2" height="2" fill="#135a00"/>
<rect x="404" y="384" width="2" height="4" fill="#156400"/>
<rect x="404" y="390" width="2" height="2" fill="#1c8200"/>
<rect x="404" y="392" width="2" height="4" fill="#135a00"/>
<rect x="404" y="396" width="2" height="2" fill="#1a7a00"/>
<rect x="404" y="398" width="2" height="4" fill="#1a7a00"/>
<rect x="404" y="402" width="2" height="4" fill="#135a00"/>
<rect x="404" y="406" width="2" height="4" fill="#135a00"/>
<rect x="404" y="410" width="2" height="2" fill="#156400"/>
<rect x="406" y="360" width="2" height="4" fill="#156400"/>
<rect x="406" y="364" width="2" height="4" fill="#1c8200"/>
<rect x="406" y="378" width="2" height="2" fill="#1a7a00"/>
<rect x="406" y="380" width="2" height="2" fill="#176c00"/>
<rect x="406" y="382" width="2" height="4" fill="#1c8200"/>
<rect x="406" y="386" width="2" height="4" fill="#1a7a00"/>
<rect x="406" y="392" width="2" height="4" fill="#187000"/>
<rect x="406" y="396" width="2" height="2" fill="#135a00"/>
<rect x="406" y="398" width="2" height="2" fill="#187000"/>
<rect x="406" y="406" width="2" height="2" fill="#156400"/>
<rect x="406" y="408" width="2" height="2" fill="#1a7a00"/>
<rect x="406" y="412" width="2" height="6" fill="#1c8200"/>
<rect x="408" y="364" width="2" height="2" fill="#176c00"/>
<rect x="408" y="374" width="2" height="6" fill="#156400"/>
<rect x="408" y="380" width="2" height="4" fill="#176c00"/>
<rect x="408" y="384" width="2" height="2" fill="#1a7a00"/>
<rect x="408" y="386" width="2" height="4" fill="#1c8200"/>
<rect x="408" y="394" width="2" height="6" fill="#1c8200"/>
<rect x="408" y="400" width="2" height="6" fill="#176c00"/>
<rect x="408" y="406" width="2" height="4" fill="#1c8200"/>
<rect x="408" y="412" width="2" height="4" fill="#1c8200"/>
<rect x="410" y="362" width="2" height="2" fill="#156400"/>
<rect x="410" y="364" width="2" height="4" fill="#156400"/>
<rect x="410" y="382" width="2" height="2" fill="#135a00"/>
<rect x="410" y="386" width="2" height="2" fill="#1a7a00"/>
<rect x="410" y="388" width="2" height="2" fill="#135a00"/>
<rect x="410" y="396" width="2" height="4" fill="#187000"/>
<rect x="410" y="400" width="2" height="4" fill="#1c8200"/>
<rect x="410" y="406" width="2" height="4" fill="#1c8200"/>
<rect x="410" y="410" width="2" height="2" fill="#187000"/>
<rect x="410" y="412" width="2" height="2" fill="#187000"/>
<rect x="412" y="362" width="2" height="4" fill="#156400"/>
<rect x="412" y="372" width="2" height="2" fill="#1c8200"/>
<rect x="412" y="380" width="2" height="4" fill="#1c8200"/>
<rect x="412" y="384" width="2" height="2" fill="#176c00"/>
<rect x="412" y="392" width="2" height="2" fill="#1a7a00"/>
<rect x="412" y="400" width="2" height="6" fill="#135a00"/>
<rect x="412" y="406" width="2" height="2" fill="#135a00"/>
<rect x="412" y="412" width="2" height="4" fill="#187000"/>
<rect x="414" y="362" width="2" height="4" fill="#1c8200"/>
<rect x="414" y="366" width="2" height="4" fill="#156400"/>
<rect x="414" y="372" width="2" height="4" fill="#176c00"/>
<rect x="414" y="382" width="2" height="4" fill="#156400"/>
<rect x="414" y="394" width="2" height="2" fill="#187000"/>
<rect x="414" y="396" width="2" height="2" fill="#156400"/>
<rect x="414" y="398" width="2" height="2" fill="#135a00"/>
<rect x="414" y="412" width="2" height="2" fill="#176c00"/>
<rect x="414" y="414" width="2" height="4" fill="#1a7a00"/>
<rect x="416" y="382" width="2" height="2" fill="#156400"/>
<rect x="416" y="384" width="2" height="4" fill="#156400"/>
<rect x="416" y="388" width="2" height="4" fill="#156400"/>
<rect x="416" y="396" width="2" height="4" fill="#1a7a00"/>
<rect x="416" y="400" width="2" height="2" fill="#1c8200"/>
<rect x="416" y="402" width="2" height="4" fill="#1a7a00"/>
<rect x="416" y="406" width="2" height="2" fill="#187000"/>
<rect x="418" y="350" width="2" height="6" fill="#176c00"/>
<rect x="418" y="358" width="2" height="4" fill="#176c00"/>
<rect x="418" y="364" width="2" height="6" fill="#1a7a00"/>
<rect x="418" y="370" width="2" height="4" fill="#187000"/>
<rect x="418" y="406" width="2" height="2" fill="#176c00"/>
<rect x="420" y="344" width="2" height="6" fill="#176c00"/>
<rect x="420" y="356" width="2" height="2" fill="#1c8200"/>
<rect x="420" y="358" width="2" height="4" fill="#187000"/>
<rect x="420" y="362" width="2" height="4" fill="#156400"/>
<rect x="420" y="366" width="2" height="2" fill="#156400"/>
<rect x="420" y="368" width="2" height="2" fill="#1a7a00"/>
<rect x="420" y="370" width="2" height="4" fill="#1c8200"/>
<rect x="420" y="380" width="2" height="4" fill="#156400"/>
<rect x="420" y="386" width="2" height="2" fill="#1c8200"/>
<rect x="420" y="388" width="2" height="6" fill="#176c00"/>
<rect x="420" y="394" width="2" height="2" fill="#176c00"/>
<rect x="420" y="396" width="2" height="4" fill="#135a00"/>
<rect x="420" y="402" width="2" height="2" fill="#1c8200"/>
<rect x="420" y="404" width="2" height="6" fill="#1c8200"/>
<rect x="420" y="414" width="2" height="2" fill="#135a00"/>
<rect x="422" y="350" width="2" height="2" fill="#1c8200"/>
<rect x="422" y="352" width="2" height="4" fill="#187000"/>
<rect x="422" y="364" width="2" height="2" fill="#187000"/>
<rect x="422" y="366" width="2" height="2" fill="#156400"/>
<rect x="422" y="368" width="2" height="4" fill="#1c8200"/>
<rect x="422" y="372" width="2" height="2" fill="#135a00"/>
<rect x="422" y="374" width="2" height="6" fill="#187000"/>
<rect x="422" y="380" width="2" height="4" fill="#156400"/>
<rect x="422" y="384" width="2" height="4" fill="#187000"/>
<rect x="422" y="402" width="2" height="2" fill="#156400"/>
<rect x="424" y="348" width="2" height="2" fill="#1c8200"/>
<rect x="424" y="356" width="2" height="2" fill="#176c00"/>
<rect x="424" y="358" width="2" height="2" fill="#176c00"/>
<rect x="424" y="366" width="2" height="2" fill="#1c8200"/>
<rect x="424" y="368" width="2" height="6" fill="#135a00"/>
<rect x="424" y="376" width="2" height="4" fill="#176c00"/>
<rect x="424" y="382" width="2" height="2" fill="#1a7a00"/>
<rect x="424" y="384" width="2" height="2" fill="#156400"/>
<rect x="424" y="388" width="2" height="2" fill="#1c8200"/>
<rect x="424" y="390" width="2" height="2" fill="#176c00"/>
<rect x="424" y="392" width="2" height="2" fill="#187000"/>
<rect x="424" y="394" width="2" height="2" fill="#156400"/>
<rect x="424" y="400" width="2" height="4" fill="#135a00"/>
<rect x="424" y="406" width="2" height="4" fill="#187000"/>
<rect x="424" y="410" width="2" height="2" fill="#1c8200"/>
<rect x="426" y="354" width="2" height="4" fill="#176c00"/>
<rect x="426" y="364" width="2" height="4" fill="#176c00"/>
<rect x="426" y="368" width="2" height="4" fill="#135a00"/>
<rect x="426" y="372" width="2" height="4" fill="#156400"/>
<rect x="426" y="376" width="2" height="6" fill="#176c00"/>
<rect x="426" y="396" width="2" height="2" fill="#135a00"/>
<rect x="426" y="408" width="2" height="2" fill="#135a00"/>
<rect x="426" y="420" width="2" height="2" fill="#156400"/>
<rect x="428" y="344" width="2" height="4" fill="#1a7a00"/>
<rect x="428" y="352" width="2" height="2" fill="#1c8200"/>
<rect x="428" y="356" width="2" height="4" fill="#1c8200"/>
<rect x="428" y="364" width="2" height="6" fill="#176c00"/>
<rect x="428" y="374" width="2" height="2" fill="#1a7a00"/>
<rect x="428" y="380" width="2" height="4" fill="#187000"/>
<rect x="428" y="388" width="2" height="4" fill="#1c8200"/>
<rect x="428" y="392" width="2" height="4" fill="#176c00"/>
<rect x="428" y="400" width="2" height="6" fill="#135a00"/>
<rect x="428" y="410" width="2" height="2" fill="#135a00"/>
<rect x="430" y="348" width="2" height="2" fill="#156400"/>
<rect x="430" y="350" width="2" height="4" fill="#176c00"/>
<rect x="430" y="366" width="2" height="2" fill="#156400"/>
<rect x="430" y="368" width="2" height="4" fill="#1c8200"/>
<rect x="430" y="374" width="2" height="4" fill="#135a00"/>
<rect x="430" y="378" width="2" height="2" fill="#187000"/>
<rect x="430" y="380" width="2" height="6" fill="#156400"/>
<rect x="430" y="386" width="2" height="2" fill="#176c00"/>
<rect x="430" y="388" width="2" height="6" fill="#1a7a00"/>
<rect x="430" y="394" width="2" height="4" fill="#176c00"/>
<rect x="430" y="398" width="2" height="2" fill="#156400"/>
<rect x="432" y="354" width="2" height="4" fill="#135a00"/>
<rect x="432" y="358" width="2" height="2" fill="#176c00"/>
<rect x="432" y="360" width="2" height="4" fill="#1a7a00"/>
<rect x="432" y="364" width="2" height="6" fill="#176c00"/>
<rect x="432" y="370" width="2" height="4" fill="#1a7a00"/>
<rect x="432" y="374" width="2" height="2" fill="#176c00"/>
<rect x="432" y="380" width="2" height="4" fill="#176c00"/>
<rect x="432" y="384" width="2" height="4" fill="#176c00"/>
<rect x="432" y="390" width="2" height="4" fill="#176c00"/>
<rect x="432" y="394" width="2" height="2" fill="#176c00"/>
<rect x="432" y="398" width="2" height="6" fill="#1a7a00"/>
<rect x="434" y="364" width="2" height="6" fill="#135a00"/>
<rect x="434" y="370" width="2" height="2" fill="#187000"/>
<rect x="434" y="378" width="2" height="6" fill="#156400"/>
<rect x="434" y="394" width="2" height="4" fill="#1a7a00"/>
<rect x="434" y="398" width="2" height="6" fill="#187000"/>
<rect x="434" y="410" width="2" height="2" fill="#176c00"/>
<rect x="436" y="364" width="2" height="4" fill="#156400"/>
<rect x="436" y="368" width="2" height="4" fill="#135a00"/>
<rect x="436" y="372" width="2" height="2" fill="#1c8200"/>
<rect x="436" y="380" width="2" height="2" fill="#187000"/>
<rect x="436" y="382" width="2" height="2" fill="#135a00"/>
<rect x="436" y="384" width="2" height="4" fill="#176c00"/>
<rect x="436" y="388" width="2" height="2" fill="#1a7a00"/>
<rect x="436" y="392" width="2" height="4" fill="#156400"/>
<rect x="436" y="398" width="2" height="6" fill="#1c8200"/>
<rect x="438" y="374" width="2" height="2" fill="#1c8200"/>
<rect x="438" y="384" width="2" height="4" fill="#135a00"/>
<rect x="438" y="388" width="2" height="6" fill="#156400"/>
<rect x="438" y="394" width="2" height="6" fill="#156400"/>
<rect x="438" y="402" width="2" height="2" fill="#187000"/>
<rect x="438" y="420" width="2" height="2" fill="#156400"/>
<rect x="440" y="370" width="2" height="6" fill="#156400"/>
<rect x="440" y="382" width="2" height="4" fill="#1a7a00"/>
<rect x="440" y="386" width="2" height="2" fill="#156400"/>
<rect x="440" y="400" width="2" height="6" fill="#1a7a00"/>
<rect x="442" y="350" width="2" height="6" fill="#1c8200"/>
<rect x="442" y="362" width="2" height="4" fill="#135a00"/>
<rect x="442" y="374" width="2" height="2" fill="#135a00"/>
<rect x="442" y="376" width="2" height="4" fill="#1c8200"/>
<rect x="442" y="386" width="2" height="4" fill="#187000"/>
<rect x="442" y="390" width="2" height="6" fill="#176c00"/>
<rect x="444" y="372" width="2" height="2" fill="#176c00"/>
<rect x="444" y="388" width="2" height="4" fill="#156400"/>
<rect x="444" y="404" width="2" height="2" fill="#187000"/>
<rect x="446" y="386" width="2" height="2" fill="#1a7a00"/>
<rect x="446" y="392" width="2" height="2" fill="#1a7a00"/>
<rect x="446" y="408" width="2" height="2" fill="#135a00"/>
<rect x="448" y="374" width="2" height="2" fill="#1a7a00"/>
<rect x="450" y="374" width="2" height="6" fill="#1a7a00"/>
<rect x="454" y="370" width="2" height="4" fill="#1c8200"/>
<rect x="454" y="382" width="2" height="2" fill="#135a00"/>
<rect x="454" y="384" width="2" height="2" fill="#135a00"/>
<rect x="454" y="396" width="2" height="2" fill="#1a7a00"/>
<rect x="454" y="408" width="2" height="4" fill="#135a00"/>
<rect x="456" y="384" width="2" height="2" fill="#156400"/>
<rect x="456" y="386" width="2" height="4" fill="#1c8200"/>
<rect x="456" y="402" width="2" height="2" fill="#135a00"/>
<rect x="456" y="404" width="2" height="6" fill="#187000"/>
<rect x="458" y="378" width="2" height="2" fill="#187000"/>
<rect x="458" y="384" width="2" height="4" fill="#1a7a00"/>
<rect x="458" y="390" width="2" height="4" fill="#176c00"/>
<rect x="458" y="394" width="2" height="4" fill="#1a7a00"/>
<rect x="458" y="400" width="2" height="4" fill="#187000"/>
<rect x="458" y="404" width="2" height="4" fill="#176c00"/>
<rect x="460" y="382" width="2" height="4" fill="#156400"/>
<rect x="460" y="388" width="2" height="2" fill="#135a00"/>
<rect x="460" y="390" width="2" height="2" fill="#1a7a00"/>
<rect x="460" y="392" width="2" height="2" fill="#1a7a00"/>
<rect x="460" y="394" width="2" height="2" fill="#176c00"/>
<rect x="462" y="374" width="2" height="2" fill="#176c00"/>
<rect x="462" y="382" width="2" height="6" fill="#1c8200"/>
<rect x="462" y="396" width="2" height="4" fill="#176c00"/>
<rect x="462" y="400" width="2" height="2" fill="#187000"/>
<rect x="462" y="402" width="2" height="2" fill="#1a7a00"/>
<rect x="464" y="398" width="2" height="4" fill="#176c00"/>
<rect x="466" y="394" width="2" height="4" fill="#1c8200"/>
<rect x="466" y="412" width="2" height="6" fill="#176c00"/>
<rect x="287" y="384" width="1" height="2" fill="#176c00"/>
<rect x="289" y="402" width="1" height="2" fill="#156400"/>
<rect x="290" y="386" width="1" height="4" fill="#135a00"/>
<rect x="291" y="386" width="1" height="4" fill="#135a00"/>
<rect x="291" y="390" width="1" height="2" fill="#176c00"/>
<rect x="292" y="384" width="1" height="4" fill="#187000"/>
<rect x="292" y="388" width="1" height="2" fill="#1c8200"/>
<rect x="292" y="394" width="1" height="2" fill="#176c00"/>
<rect x="293" y="384" width="1" height="2" fill="#176c00"/>
<rect x="293" y="390" width="1" height="4" fill="#1c8200"/>
<rect x="293" y="398" width="1" height="4" fill="#1a7a00"/>
<rect x="294" y="396" width="1" height="4" fill="#176c00"/>
<rect x="295" y="390" width="1" height="2" fill="#187000"/>
<rect x="295" y="392" width="1" height="2" fill="#1a7a00"/>
<rect x="295" y="394" width="1" height="2" fill="#176c00"/>
<rect x="295" y="396" width="1" height="2" fill="#1c8200"/>
<rect x="296" y="390" width="1" height="4" fill="#1c8200"/>
<rect x="297" y="390" width="1" height="2" fill="#1c8200"/>
<rect x="297" y="394" width="1" height="2" fill="#156400"/>
<rect x="298" y="378" width="1" height="2" fill="#187000"/>
<rect x="298" y="384" width="1" height="2" fill="#176c00"/>
<rect x="298" y="388" width="1" height="4" fill="#176c00"/>
<rect x="298" y="404" width="1" height="2" fill="#156400"/>
<rect x="299" y="394" width="1" height="2" fill="#187000"/>
<rect x="300" y="390" width="1" height="2" fill="#156400"/>
<rect x="300" y="396" width="1" height="4" fill="#135a00"/>
<rect x="301" y="388" width="1" height="4" fill="#156400"/>
<rect x="302" y="390" width="1" height="2" fill="#156400"/>
<rect x="302" y="398" width="1" height="2" fill="#1c8200"/>
<rect x="304" y="386" width="1" height="2" fill="#1a7a00"/>
<rect x="304" y="398" width="1" height="2" fill="#156400"/>
<rect x="305" y="394" width="1" height="4" fill="#1c8200"/>
<rect x="305" y="398" width="1" height="2" fill="#1c8200"/>
<rect x="305" y="400" width="1" height="2" fill="#135a00"/>
<rect x="307" y="402" width="1" height="4" fill="#176c00"/>
<rect x="312" y="376" width="1" height="2" fill="#1a7a00"/>
<rect x="312" y="384" width="1" height="2" fill="#1a7a00"/>
<rect x="312" y="388" width="1" height="2" fill="#1a7a00"/>
<rect x="312" y="394" width="1" height="4" fill="#187000"/>
<rect x="313" y="378" width="1" height="2" fill="#187000"/>
<rect x="313" y="390" width="1" height="4" fill="#156400"/>
<rect x="313" y="396" width="1" height="2" fill="#156400"/>
<rect x="314" y="386" width="1" height="2" fill="#1a7a00"/>
<rect x="314" y="390" width="1" height="4" fill="#1c8200"/>
<rect x="315" y="380" width="1" height="2" fill="#176c00"/>
<rect x="315" y="382" width="1" height="2" fill="#156400"/>
<rect x="316" y="390" width="1" height="2" fill="#176c00"/>
<rect x="554" y="416" width="2" height="4" fill="#1a8c00"/>
<rect x="554" y="420" width="2" height="4" fill="#18a000"/>
<rect x="556" y="413" width="2" height="2" fill="#18a000"/>
<rect x="556" y="415" width="2" height="2" fill="#1a8c00"/>
<rect x="558" y="407" width="2" height="4" fill="#22aa00"/>
<rect x="558" y="411" width="2" height="2" fill="#1a8c00"/>
<rect x="560" y="408" width="2" height="2" fill="#1a8c00"/>
<rect x="560" y="410" width="2" height="2" fill="#1e9a00"/>
<rect x="560" y="412" width="2" height="3" fill="#22aa00"/>
<rect x="560" y="415" width="2" height="3" fill="#1e9a00"/>
<rect x="562" y="400" width="2" height="3" fill="#22aa00"/>
<rect x="562" y="403" width="2" height="2" fill="#18a000"/>
<rect x="562" y="405" width="2" height="2" fill="#1e9a00"/>
<rect x="562" y="407" width="2" height="4" fill="#18a000"/>
<rect x="562" y="411" width="2" height="3" fill="#1e9a00"/>
<rect x="562" y="414" width="2" height="2" fill="#22aa00"/>
<rect x="564" y="403" width="2" height="2" fill="#22aa00"/>
<rect x="564" y="405" width="2" height="3" fill="#1e9a00"/>
<rect x="564" y="408" width="2" height="2" fill="#18a000"/>
<rect x="564" y="410" width="2" height="2" fill="#22aa00"/>
<rect x="566" y="408" width="2" height="4" fill="#18a000"/>
<rect x="566" y="414" width="2" height="2" fill="#18a000"/>
<rect x="566" y="418" width="2" height="2" fill="#18a000"/>
<rect x="568" y="405" width="2" height="3" fill="#22aa00"/>
<rect x="568" y="408" width="2" height="2" fill="#1a8c00"/>
<rect x="568" y="410" width="2" height="2" fill="#18a000"/>
<rect x="568" y="412" width="2" height="2" fill="#1a8c00"/>
<rect x="570" y="405" width="2" height="3" fill="#1a8c00"/>
<rect x="570" y="408" width="2" height="2" fill="#22aa00"/>
<rect x="570" y="410" width="2" height="4" fill="#1e9a00"/>
<rect x="570" y="420" width="2" height="3" fill="#1e9a00"/>
<rect x="572" y="406" width="2" height="2" fill="#1e9a00"/>
<rect x="572" y="412" width="2" height="3" fill="#22aa00"/>
<rect x="574" y="404" width="2" height="4" fill="#1a8c00"/>
<rect x="574" y="408" width="2" height="2" fill="#1a8c00"/>
<rect x="580" y="412" width="2" height="4" fill="#1a8c00"/>
<rect x="606" y="387" width="2" height="4" fill="#18a000"/>
<rect x="610" y="389" width="2" height="2" fill="#18a000"/>
<rect x="610" y="391" width="2" height="3" fill="#1e9a00"/>
<rect x="612" y="388" width="2" height="3" fill="#1e9a00"/>
<rect x="622" y="383" width="2" height="4" fill="#22aa00"/>
<rect x="622" y="394" width="2" height="4" fill="#1e9a00"/>
<rect x="624" y="388" width="2" height="4" fill="#18a000"/>
<rect x="624" y="392" width="2" height="3" fill="#1a8c00"/>
<rect x="624" y="395" width="2" height="2" fill="#22aa00"/>
<rect x="626" y="392" width="2" height="2" fill="#1e9a00"/>
<rect x="628" y="390" width="2" height="2" fill="#18a000"/>
<rect x="628" y="392" width="2" height="4" fill="#1a8c00"/>
<rect x="630" y="391" width="2" height="4" fill="#22aa00"/>
<rect x="630" y="395" width="2" height="4" fill="#1e9a00"/>
<rect x="632" y="386" width="2" height="2" fill="#1a8c00"/>
<rect x="632" y="390" width="2" height="4" fill="#1a8c00"/>
<rect x="632" y="394" width="2" height="4" fill="#22aa00"/>
<rect x="632" y="402" width="2" height="4" fill="#1e9a00"/>
<rect x="634" y="388" width="2" height="4" fill="#18a000"/>
<rect x="634" y="392" width="2" height="4" fill="#1a8c00"/>
<rect x="634" y="396" width="2" height="4" fill="#22aa00"/>
<rect x="636" y="388" width="2" height="3" fill="#22aa00"/>
<rect x="636" y="391" width="2" height="2" fill="#1e9a00"/>
<rect x="636" y="393" width="2" height="3" fill="#22aa00"/>
<rect x="636" y="396" width="2" height="4" fill="#22aa00"/>
<rect x="636" y="400" width="2" height="3" fill="#1a8c00"/>
<rect x="638" y="382" width="2" height="4" fill="#1a8c00"/>
<rect x="638" y="392" width="2" height="2" fill="#22aa00"/>
<rect x="638" y="398" width="2" height="2" fill="#22aa00"/>
<rect x="638" y="400" width="2" height="3" fill="#1e9a00"/>
<rect x="640" y="389" width="2" height="4" fill="#1a8c00"/>
<rect x="640" y="393" width="2" height="4" fill="#18a000"/>
<rect x="640" y="397" width="2" height="4" fill="#18a000"/>
<rect x="640" y="401" width="2" height="3" fill="#1a8c00"/>
<rect x="640" y="404" width="2" height="2" fill="#22aa00"/>
<rect x="642" y="386" width="2" height="4" fill="#1a8c00"/>
<rect x="642" y="392" width="2" height="3" fill="#1e9a00"/>
<rect x="642" y="395" width="2" height="2" fill="#1a8c00"/>
<rect x="642" y="397" width="2" height="4" fill="#18a000"/>
<rect x="642" y="401" width="2" height="4" fill="#1e9a00"/>
<rect x="644" y="391" width="2" height="2" fill="#1e9a00"/>
<rect x="644" y="393" width="2" height="2" fill="#1e9a00"/>
<rect x="644" y="395" width="2" height="2" fill="#22aa00"/>
<rect x="644" y="397" width="2" height="4" fill="#1e9a00"/>
<rect x="644" y="401" width="2" height="2" fill="#22aa00"/>
<rect x="646" y="388" width="2" height="4" fill="#1a8c00"/>
<rect x="646" y="392" width="2" height="2" fill="#18a000"/>
<rect x="646" y="394" width="2" height="2" fill="#22aa00"/>
<rect x="646" y="398" width="2" height="2" fill="#18a000"/>
<rect x="648" y="391" width="2" height="4" fill="#22aa00"/>
<rect x="648" y="395" width="2" height="2" fill="#18a000"/>
<rect x="648" y="397" width="2" height="2" fill="#1a8c00"/>
<rect x="648" y="399" width="2" height="4" fill="#1a8c00"/>
<rect x="650" y="399" width="2" height="2" fill="#18a000"/>
<rect x="480" y="404" width="2" height="2" fill="#1a9000"/>
<rect x="485" y="402" width="2" height="2" fill="#1a9000"/>
<rect x="506" y="401" width="1" height="3" fill="#1a9000"/>
<rect x="507" y="400" width="3" height="1" fill="#1a9000"/>
<rect x="580" y="396" width="1" height="2" fill="#1a9000"/>
<rect x="599" y="382" width="2" height="2" fill="#1a9000"/>
<rect x="618" y="343" width="2" height="4" fill="#1a9000"/>
<rect x="619" y="350" width="2" height="12" fill="#1a9000"/>
<rect x="620" y="365" width="1" height="8" fill="#1a9000"/>
<rect x="620" y="372" width="2" height="3" fill="#1a9000"/>
<rect x="601" y="352" width="2" height="4" fill="#1a9000"/>
<rect x="546" y="520" width="2" height="9" fill="#1a9000"/>
<rect x="363" y="414" width="2" height="2" fill="#1a9000"/>
<rect x="370" y="420" width="2" height="2" fill="#1a9000"/>
<rect x="339" y="400" width="2" height="2" fill="#1a9000"/>
<rect x="296" y="376" width="1" height="2" fill="#1a9000"/>
<rect x="307" y="373" width="1" height="4" fill="#1a9000"/>
<rect x="315" y="382" width="2" height="3" fill="#1a9000"/>
</g>
</g>

<!-- GRID -->
<g stroke="#383838" stroke-width="1" shape-rendering="crispEdges">
<path d="M153.5 38V526M257.5 38V526M337.5 38V526M388.5 38V526M473.5 38V526M564.5 38V526M668.5 38V526M741.5 38V526"/>
<path d="M80 130.5H799M80 198.5H799M80 273.5H799M80 332.5H799M80 384.5H799M80 433.5H799M80 485.5H799M95 534.5H672"/>
</g>
<!-- TICKS -->
<g stroke="#000" stroke-width="1" shape-rendering="crispEdges">
<path d="M153.5 39V48M257.5 39V48M337.5 39V48M388.5 39V48M473.5 39V48M564.5 39V48M668.5 39V48M741.5 39V48"/>
<path d="M153.5 525V534M257.5 525V534M337.5 525V534M388.5 525V534M473.5 525V534M564.5 525V534M668.5 525V534M741.5 525V534"/>
<path d="M80 130.5H90M80 198.5H90M80 273.5H90M80 332.5H90M80 384.5H90M80 433.5H90M80 485.5H90"/>
<path d="M789 130.5H799M789 198.5H799M789 273.5H799M789 332.5H799M789 384.5H799M789 433.5H799M789 485.5H799"/>
</g>
<!-- FRAME -->
<g fill="#000" shape-rendering="crispEdges">
<rect x="78" y="38" width="722" height="1"/>
<rect x="78" y="38" width="2" height="498"/>
<rect x="799" y="38" width="1" height="498"/>
<rect x="78" y="535" width="722" height="1"/>
<rect x="78" y="534" width="17" height="1"/>
<rect x="672" y="534" width="128" height="1"/>
</g>

<text x="234.88" y="13.70" font-size="19.0" stroke="#000" stroke-width="0.3" textLength="285.77" lengthAdjust="spacingAndGlyphs">Jicamarca 2014 008 16:28:04 UTC</text>
<text x="557.06" y="13.70" font-size="19.0" stroke="#000" stroke-width="0.3" textLength="69.94" lengthAdjust="spacingAndGlyphs">08Jan14</text>
<text x="22.97" y="41.80" font-size="19.0" stroke="#000" stroke-width="0.3" textLength="40.11" lengthAdjust="spacingAndGlyphs">1500</text>
<text x="32.34" y="133.80" font-size="19.0" stroke="#000" stroke-width="0.3" textLength="30.48" lengthAdjust="spacingAndGlyphs">800</text>
<text x="32.28" y="201.80" font-size="19.0" stroke="#000" stroke-width="0.3" textLength="30.62" lengthAdjust="spacingAndGlyphs">500</text>
<text x="32.17" y="276.80" font-size="19.0" stroke="#000" stroke-width="0.3" textLength="30.76" lengthAdjust="spacingAndGlyphs">300</text>
<text x="32.08" y="335.80" font-size="19.0" stroke="#000" stroke-width="0.3" textLength="30.84" lengthAdjust="spacingAndGlyphs">200</text>
<text x="31.78" y="387.80" font-size="19.0" stroke="#000" stroke-width="0.3" textLength="31.28" lengthAdjust="spacingAndGlyphs">140</text>
<text x="31.78" y="436.80" font-size="19.0" stroke="#000" stroke-width="0.3" textLength="31.28" lengthAdjust="spacingAndGlyphs">100</text>
<text x="42.15" y="488.80" font-size="19.0" stroke="#000" stroke-width="0.3" textLength="20.94" lengthAdjust="spacingAndGlyphs">70</text>
<text x="42.23" y="537.80" font-size="19.0" stroke="#000" stroke-width="0.3" textLength="20.84" lengthAdjust="spacingAndGlyphs">50</text>
<text x="65.13" y="562.80" font-size="19.0" stroke="#000" stroke-width="0.3" textLength="25.98" lengthAdjust="spacingAndGlyphs">1.5</text>
<text x="138.36" y="562.80" font-size="19.0" stroke="#000" stroke-width="0.3" textLength="25.30" lengthAdjust="spacingAndGlyphs">2.0</text>
<text x="243.56" y="562.80" font-size="19.0" stroke="#000" stroke-width="0.3" textLength="25.23" lengthAdjust="spacingAndGlyphs">3.0</text>
<text x="321.98" y="562.80" font-size="19.0" stroke="#000" stroke-width="0.3" textLength="23.69" lengthAdjust="spacingAndGlyphs">4.1</text>
<text x="374.69" y="562.80" font-size="19.0" stroke="#000" stroke-width="0.3" textLength="25.18" lengthAdjust="spacingAndGlyphs">5.0</text>
<text x="460.08" y="562.80" font-size="19.0" stroke="#000" stroke-width="0.3" textLength="25.01" lengthAdjust="spacingAndGlyphs">7.0</text>
<text x="545.85" y="562.80" font-size="19.0" stroke="#000" stroke-width="0.3" textLength="35.02" lengthAdjust="spacingAndGlyphs">10.0</text>
<text x="649.98" y="562.80" font-size="19.0" stroke="#000" stroke-width="0.3" textLength="34.73" lengthAdjust="spacingAndGlyphs">15.0</text>
<text x="721.71" y="562.80" font-size="19.0" stroke="#000" stroke-width="0.3" textLength="34.93" lengthAdjust="spacingAndGlyphs">20.0</text>
<text x="369.85" y="590.50" font-size="19.0" stroke="#000" stroke-width="0.3" textLength="138.68" lengthAdjust="spacingAndGlyphs">Frequency [MHz]</text>
<text x="39.86" y="610.80" font-size="13.3" textLength="106.58" lengthAdjust="spacingAndGlyphs">RxMask 00110011</text>
<text x="591.81" y="610.80" font-size="13.3" textLength="211.68" lengthAdjust="spacingAndGlyphs" xml:space="preserve">VIPIR  JM91J_2014008162804.RIQ</text>
<text x="817.17" y="20.00" font-size="19.0" stroke="#000" stroke-width="0.3" textLength="77.35" lengthAdjust="spacingAndGlyphs">SNR [dB]</text>
<text x="817.43" y="50.20" font-size="19.0" stroke="#000" stroke-width="0.3" textLength="14.50" lengthAdjust="spacingAndGlyphs">O</text>
<text x="889.07" y="50.20" font-size="19.0" stroke="#000" stroke-width="0.3" textLength="12.90" lengthAdjust="spacingAndGlyphs">X</text>
<text transform="translate(13.99,286.43) rotate(-90)" font-size="19" stroke="#000" stroke-width="0.3" text-anchor="middle" textLength="94.27" lengthAdjust="spacingAndGlyphs">Range [km]</text>
<!-- COLORBARS -->
<rect x="817.5" y="55.5" width="20" height="460" fill="url(#cbR)" stroke="#000" stroke-width="1"/>
<rect x="881.5" y="55.5" width="20" height="460" fill="url(#cbG)" stroke="#000" stroke-width="1"/>
<g stroke="#000" stroke-width="1" shape-rendering="crispEdges">
<path d="M818 147.5H825M830 147.5H837M818 239.5H825M830 239.5H837M818 331.5H825M830 331.5H837M818 423.5H825M830 423.5H837"/>
<path d="M882 147.5H889M894 147.5H901M882 239.5H889M894 239.5H901M882 331.5H889M894 331.5H901M882 423.5H889M894 423.5H901"/>
</g>
<g font-size="15.7" fill="#111">
<text x="851" y="59">50</text><text x="851" y="151">40</text><text x="851" y="243">30</text><text x="851" y="335">20</text><text x="851" y="427">10</text><text x="851" y="519">0</text>
<text x="915" y="59">50</text><text x="915" y="151">40</text><text x="915" y="243">30</text><text x="915" y="335">20</text><text x="915" y="427">10</text><text x="915" y="519">0</text>
</g>
</svg>
</body></html>
